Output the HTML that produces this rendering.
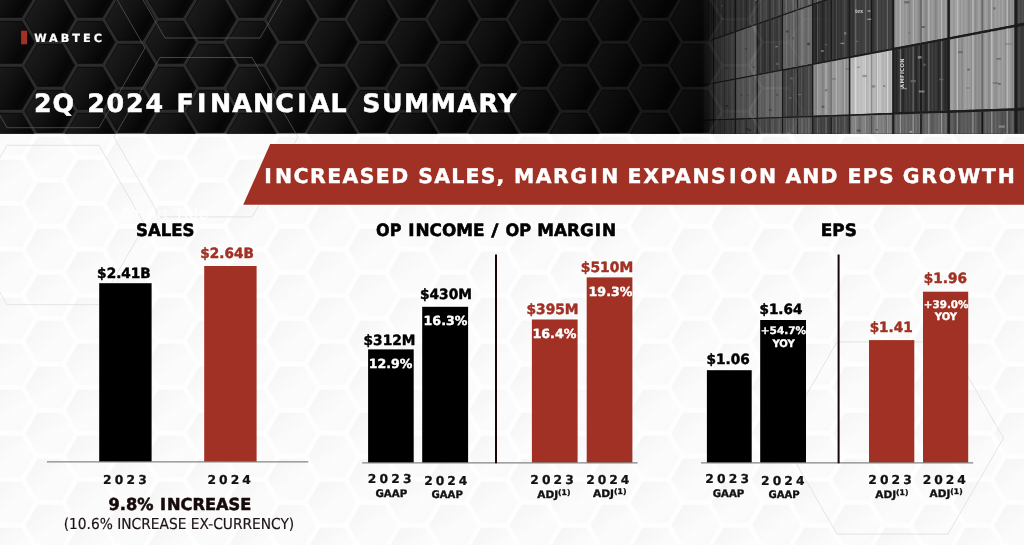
<!DOCTYPE html>
<html lang="en"><head><meta charset="utf-8"><title>2Q 2024 Financial Summary</title>
<style>html,body{margin:0;padding:0;background:#fff}svg{display:block}text{text-rendering:geometricPrecision}.v{font-family:"DejaVu Sans","Liberation Sans",sans-serif;font-weight:bold}.t{font-family:"DejaVu Sans Condensed","DejaVu Sans","Liberation Sans",sans-serif;font-weight:bold}.r{font-family:"DejaVu Sans Condensed","DejaVu Sans","Liberation Sans",sans-serif;font-weight:normal}</style></head><body>
<svg width="1024" height="545" viewBox="0 0 1024 545">
<defs>
<linearGradient id="hg" x1="0" y1="0.25" x2="1" y2="0.75"><stop offset="0" stop-color="#1d1d1d"/><stop offset="0.45" stop-color="#121212"/><stop offset="0.8" stop-color="#060606"/><stop offset="1" stop-color="#0e0e0e"/></linearGradient>
<linearGradient id="lg" x1="0" y1="0" x2="1" y2="1"><stop offset="0" stop-color="#f4f4f4"/><stop offset="0.6" stop-color="#fcfcfc"/><stop offset="1" stop-color="#f8f8f8"/></linearGradient>
<linearGradient id="fade" x1="0" y1="0" x2="1" y2="0"><stop offset="0" stop-color="#050505" stop-opacity="1"/><stop offset="0.12" stop-color="#050505" stop-opacity="0.85"/><stop offset="0.3" stop-color="#050505" stop-opacity="0.55"/><stop offset="0.6" stop-color="#050505" stop-opacity="0.25"/><stop offset="1" stop-color="#050505" stop-opacity="0"/></linearGradient>
<linearGradient id="hdrk" x1="0" y1="0" x2="1" y2="0"><stop offset="0" stop-color="#000" stop-opacity="0"/><stop offset="1" stop-color="#000" stop-opacity="0.55"/></linearGradient>
<linearGradient id="pm" gradientUnits="userSpaceOnUse" x1="700" y1="0" x2="840" y2="0"><stop offset="0" stop-color="#000"/><stop offset="0.1" stop-color="#4a4a4a"/><stop offset="0.3" stop-color="#8a8a8a"/><stop offset="0.6" stop-color="#cfcfcf"/><stop offset="1" stop-color="#fff"/></linearGradient>
<mask id="pmask" maskUnits="userSpaceOnUse" x="690" y="0" width="334" height="134"><rect x="690" y="0" width="334" height="134" fill="url(#pm)"/></mask>
<filter id="soft" x="-5%" y="-5%" width="110%" height="110%"><feGaussianBlur stdDeviation="0.45"/></filter>
<clipPath id="hc"><rect x="0" y="0" width="1024" height="133.8"/></clipPath>
</defs>
<rect x="0" y="0" width="1024" height="545" fill="#fefefe"/>
<g fill="url(#lg)">
<polygon points="-55.2,157.3 -43.0,136.8 -18.8,136.8 -6.7,157.3 -18.8,177.8 -43.0,177.8"/>
<polygon points="-55.2,203.3 -43.0,182.8 -18.8,182.8 -6.7,203.3 -18.8,223.8 -43.0,223.8"/>
<polygon points="-55.2,249.3 -43.0,228.8 -18.8,228.8 -6.7,249.3 -18.8,269.8 -43.0,269.8"/>
<polygon points="-55.2,295.3 -43.0,274.8 -18.8,274.8 -6.7,295.3 -18.8,315.8 -43.0,315.8"/>
<polygon points="-55.2,341.3 -43.0,320.8 -18.8,320.8 -6.7,341.3 -18.8,361.8 -43.0,361.8"/>
<polygon points="-55.2,387.3 -43.0,366.8 -18.8,366.8 -6.7,387.3 -18.8,407.8 -43.0,407.8"/>
<polygon points="-55.2,433.3 -43.0,412.8 -18.8,412.8 -6.7,433.3 -18.8,453.8 -43.0,453.8"/>
<polygon points="-55.2,479.3 -43.0,458.8 -18.8,458.8 -6.7,479.3 -18.8,499.8 -43.0,499.8"/>
<polygon points="-55.2,525.3 -43.0,504.8 -18.8,504.8 -6.7,525.3 -18.8,545.8 -43.0,545.8"/>
<polygon points="-55.2,571.3 -43.0,550.8 -18.8,550.8 -6.7,571.3 -18.8,591.8 -43.0,591.8"/>
<polygon points="-14.8,134.3 -2.7,113.8 21.6,113.8 33.7,134.3 21.6,154.8 -2.7,154.8"/>
<polygon points="-14.8,180.3 -2.7,159.8 21.6,159.8 33.7,180.3 21.6,200.8 -2.7,200.8"/>
<polygon points="-14.8,226.3 -2.7,205.8 21.6,205.8 33.7,226.3 21.6,246.8 -2.7,246.8"/>
<polygon points="-14.8,272.3 -2.7,251.8 21.6,251.8 33.7,272.3 21.6,292.8 -2.7,292.8"/>
<polygon points="-14.8,318.3 -2.7,297.8 21.6,297.8 33.7,318.3 21.6,338.8 -2.7,338.8"/>
<polygon points="-14.8,364.3 -2.7,343.8 21.6,343.8 33.7,364.3 21.6,384.8 -2.7,384.8"/>
<polygon points="-14.8,410.3 -2.7,389.8 21.6,389.8 33.7,410.3 21.6,430.8 -2.7,430.8"/>
<polygon points="-14.8,456.3 -2.7,435.8 21.6,435.8 33.7,456.3 21.6,476.8 -2.7,476.8"/>
<polygon points="-14.8,502.3 -2.7,481.8 21.6,481.8 33.7,502.3 21.6,522.8 -2.7,522.8"/>
<polygon points="-14.8,548.3 -2.7,527.8 21.6,527.8 33.7,548.3 21.6,568.8 -2.7,568.8"/>
<polygon points="25.5,157.3 37.7,136.8 61.9,136.8 74.0,157.3 61.9,177.8 37.7,177.8"/>
<polygon points="25.5,203.3 37.7,182.8 61.9,182.8 74.0,203.3 61.9,223.8 37.7,223.8"/>
<polygon points="25.5,249.3 37.7,228.8 61.9,228.8 74.0,249.3 61.9,269.8 37.7,269.8"/>
<polygon points="25.5,295.3 37.7,274.8 61.9,274.8 74.0,295.3 61.9,315.8 37.7,315.8"/>
<polygon points="25.5,341.3 37.7,320.8 61.9,320.8 74.0,341.3 61.9,361.8 37.7,361.8"/>
<polygon points="25.5,387.3 37.7,366.8 61.9,366.8 74.0,387.3 61.9,407.8 37.7,407.8"/>
<polygon points="25.5,433.3 37.7,412.8 61.9,412.8 74.0,433.3 61.9,453.8 37.7,453.8"/>
<polygon points="25.5,479.3 37.7,458.8 61.9,458.8 74.0,479.3 61.9,499.8 37.7,499.8"/>
<polygon points="25.5,525.3 37.7,504.8 61.9,504.8 74.0,525.3 61.9,545.8 37.7,545.8"/>
<polygon points="25.5,571.3 37.7,550.8 61.9,550.8 74.0,571.3 61.9,591.8 37.7,591.8"/>
<polygon points="65.9,134.3 78.0,113.8 102.3,113.8 114.4,134.3 102.3,154.8 78.0,154.8"/>
<polygon points="65.9,180.3 78.0,159.8 102.3,159.8 114.4,180.3 102.3,200.8 78.0,200.8"/>
<polygon points="65.9,226.3 78.0,205.8 102.3,205.8 114.4,226.3 102.3,246.8 78.0,246.8"/>
<polygon points="65.9,272.3 78.0,251.8 102.3,251.8 114.4,272.3 102.3,292.8 78.0,292.8"/>
<polygon points="65.9,318.3 78.0,297.8 102.3,297.8 114.4,318.3 102.3,338.8 78.0,338.8"/>
<polygon points="65.9,364.3 78.0,343.8 102.3,343.8 114.4,364.3 102.3,384.8 78.0,384.8"/>
<polygon points="65.9,410.3 78.0,389.8 102.3,389.8 114.4,410.3 102.3,430.8 78.0,430.8"/>
<polygon points="65.9,456.3 78.0,435.8 102.3,435.8 114.4,456.3 102.3,476.8 78.0,476.8"/>
<polygon points="65.9,502.3 78.0,481.8 102.3,481.8 114.4,502.3 102.3,522.8 78.0,522.8"/>
<polygon points="65.9,548.3 78.0,527.8 102.3,527.8 114.4,548.3 102.3,568.8 78.0,568.8"/>
<polygon points="106.2,157.3 118.4,136.8 142.6,136.8 154.8,157.3 142.6,177.8 118.4,177.8"/>
<polygon points="106.2,203.3 118.4,182.8 142.6,182.8 154.8,203.3 142.6,223.8 118.4,223.8"/>
<polygon points="106.2,249.3 118.4,228.8 142.6,228.8 154.8,249.3 142.6,269.8 118.4,269.8"/>
<polygon points="106.2,295.3 118.4,274.8 142.6,274.8 154.8,295.3 142.6,315.8 118.4,315.8"/>
<polygon points="106.2,341.3 118.4,320.8 142.6,320.8 154.8,341.3 142.6,361.8 118.4,361.8"/>
<polygon points="106.2,387.3 118.4,366.8 142.6,366.8 154.8,387.3 142.6,407.8 118.4,407.8"/>
<polygon points="106.2,433.3 118.4,412.8 142.6,412.8 154.8,433.3 142.6,453.8 118.4,453.8"/>
<polygon points="106.2,479.3 118.4,458.8 142.6,458.8 154.8,479.3 142.6,499.8 118.4,499.8"/>
<polygon points="106.2,525.3 118.4,504.8 142.6,504.8 154.8,525.3 142.6,545.8 118.4,545.8"/>
<polygon points="106.2,571.3 118.4,550.8 142.6,550.8 154.8,571.3 142.6,591.8 118.4,591.8"/>
<polygon points="146.6,134.3 158.7,113.8 183.0,113.8 195.1,134.3 183.0,154.8 158.7,154.8"/>
<polygon points="146.6,180.3 158.7,159.8 183.0,159.8 195.1,180.3 183.0,200.8 158.7,200.8"/>
<polygon points="146.6,226.3 158.7,205.8 183.0,205.8 195.1,226.3 183.0,246.8 158.7,246.8"/>
<polygon points="146.6,272.3 158.7,251.8 183.0,251.8 195.1,272.3 183.0,292.8 158.7,292.8"/>
<polygon points="146.6,318.3 158.7,297.8 183.0,297.8 195.1,318.3 183.0,338.8 158.7,338.8"/>
<polygon points="146.6,364.3 158.7,343.8 183.0,343.8 195.1,364.3 183.0,384.8 158.7,384.8"/>
<polygon points="146.6,410.3 158.7,389.8 183.0,389.8 195.1,410.3 183.0,430.8 158.7,430.8"/>
<polygon points="146.6,456.3 158.7,435.8 183.0,435.8 195.1,456.3 183.0,476.8 158.7,476.8"/>
<polygon points="146.6,502.3 158.7,481.8 183.0,481.8 195.1,502.3 183.0,522.8 158.7,522.8"/>
<polygon points="146.6,548.3 158.7,527.8 183.0,527.8 195.1,548.3 183.0,568.8 158.7,568.8"/>
<polygon points="186.9,157.3 199.1,136.8 223.3,136.8 235.4,157.3 223.3,177.8 199.1,177.8"/>
<polygon points="186.9,203.3 199.1,182.8 223.3,182.8 235.4,203.3 223.3,223.8 199.1,223.8"/>
<polygon points="186.9,249.3 199.1,228.8 223.3,228.8 235.4,249.3 223.3,269.8 199.1,269.8"/>
<polygon points="186.9,295.3 199.1,274.8 223.3,274.8 235.4,295.3 223.3,315.8 199.1,315.8"/>
<polygon points="186.9,341.3 199.1,320.8 223.3,320.8 235.4,341.3 223.3,361.8 199.1,361.8"/>
<polygon points="186.9,387.3 199.1,366.8 223.3,366.8 235.4,387.3 223.3,407.8 199.1,407.8"/>
<polygon points="186.9,433.3 199.1,412.8 223.3,412.8 235.4,433.3 223.3,453.8 199.1,453.8"/>
<polygon points="186.9,479.3 199.1,458.8 223.3,458.8 235.4,479.3 223.3,499.8 199.1,499.8"/>
<polygon points="186.9,525.3 199.1,504.8 223.3,504.8 235.4,525.3 223.3,545.8 199.1,545.8"/>
<polygon points="186.9,571.3 199.1,550.8 223.3,550.8 235.4,571.3 223.3,591.8 199.1,591.8"/>
<polygon points="227.3,134.3 239.4,113.8 263.7,113.8 275.8,134.3 263.7,154.8 239.4,154.8"/>
<polygon points="227.3,180.3 239.4,159.8 263.7,159.8 275.8,180.3 263.7,200.8 239.4,200.8"/>
<polygon points="227.3,226.3 239.4,205.8 263.7,205.8 275.8,226.3 263.7,246.8 239.4,246.8"/>
<polygon points="227.3,272.3 239.4,251.8 263.7,251.8 275.8,272.3 263.7,292.8 239.4,292.8"/>
<polygon points="227.3,318.3 239.4,297.8 263.7,297.8 275.8,318.3 263.7,338.8 239.4,338.8"/>
<polygon points="227.3,364.3 239.4,343.8 263.7,343.8 275.8,364.3 263.7,384.8 239.4,384.8"/>
<polygon points="227.3,410.3 239.4,389.8 263.7,389.8 275.8,410.3 263.7,430.8 239.4,430.8"/>
<polygon points="227.3,456.3 239.4,435.8 263.7,435.8 275.8,456.3 263.7,476.8 239.4,476.8"/>
<polygon points="227.3,502.3 239.4,481.8 263.7,481.8 275.8,502.3 263.7,522.8 239.4,522.8"/>
<polygon points="227.3,548.3 239.4,527.8 263.7,527.8 275.8,548.3 263.7,568.8 239.4,568.8"/>
<polygon points="267.6,157.3 279.8,136.8 304.0,136.8 316.1,157.3 304.0,177.8 279.8,177.8"/>
<polygon points="267.6,203.3 279.8,182.8 304.0,182.8 316.1,203.3 304.0,223.8 279.8,223.8"/>
<polygon points="267.6,249.3 279.8,228.8 304.0,228.8 316.1,249.3 304.0,269.8 279.8,269.8"/>
<polygon points="267.6,295.3 279.8,274.8 304.0,274.8 316.1,295.3 304.0,315.8 279.8,315.8"/>
<polygon points="267.6,341.3 279.8,320.8 304.0,320.8 316.1,341.3 304.0,361.8 279.8,361.8"/>
<polygon points="267.6,387.3 279.8,366.8 304.0,366.8 316.1,387.3 304.0,407.8 279.8,407.8"/>
<polygon points="267.6,433.3 279.8,412.8 304.0,412.8 316.1,433.3 304.0,453.8 279.8,453.8"/>
<polygon points="267.6,479.3 279.8,458.8 304.0,458.8 316.1,479.3 304.0,499.8 279.8,499.8"/>
<polygon points="267.6,525.3 279.8,504.8 304.0,504.8 316.1,525.3 304.0,545.8 279.8,545.8"/>
<polygon points="267.6,571.3 279.8,550.8 304.0,550.8 316.1,571.3 304.0,591.8 279.8,591.8"/>
<polygon points="308.0,134.3 320.1,113.8 344.4,113.8 356.5,134.3 344.4,154.8 320.1,154.8"/>
<polygon points="308.0,180.3 320.1,159.8 344.4,159.8 356.5,180.3 344.4,200.8 320.1,200.8"/>
<polygon points="308.0,226.3 320.1,205.8 344.4,205.8 356.5,226.3 344.4,246.8 320.1,246.8"/>
<polygon points="308.0,272.3 320.1,251.8 344.4,251.8 356.5,272.3 344.4,292.8 320.1,292.8"/>
<polygon points="308.0,318.3 320.1,297.8 344.4,297.8 356.5,318.3 344.4,338.8 320.1,338.8"/>
<polygon points="308.0,364.3 320.1,343.8 344.4,343.8 356.5,364.3 344.4,384.8 320.1,384.8"/>
<polygon points="308.0,410.3 320.1,389.8 344.4,389.8 356.5,410.3 344.4,430.8 320.1,430.8"/>
<polygon points="308.0,456.3 320.1,435.8 344.4,435.8 356.5,456.3 344.4,476.8 320.1,476.8"/>
<polygon points="308.0,502.3 320.1,481.8 344.4,481.8 356.5,502.3 344.4,522.8 320.1,522.8"/>
<polygon points="308.0,548.3 320.1,527.8 344.4,527.8 356.5,548.3 344.4,568.8 320.1,568.8"/>
<polygon points="348.4,157.3 360.5,136.8 384.7,136.8 396.9,157.3 384.7,177.8 360.5,177.8"/>
<polygon points="348.4,203.3 360.5,182.8 384.7,182.8 396.9,203.3 384.7,223.8 360.5,223.8"/>
<polygon points="348.4,249.3 360.5,228.8 384.7,228.8 396.9,249.3 384.7,269.8 360.5,269.8"/>
<polygon points="348.4,295.3 360.5,274.8 384.7,274.8 396.9,295.3 384.7,315.8 360.5,315.8"/>
<polygon points="348.4,341.3 360.5,320.8 384.7,320.8 396.9,341.3 384.7,361.8 360.5,361.8"/>
<polygon points="348.4,387.3 360.5,366.8 384.7,366.8 396.9,387.3 384.7,407.8 360.5,407.8"/>
<polygon points="348.4,433.3 360.5,412.8 384.7,412.8 396.9,433.3 384.7,453.8 360.5,453.8"/>
<polygon points="348.4,479.3 360.5,458.8 384.7,458.8 396.9,479.3 384.7,499.8 360.5,499.8"/>
<polygon points="348.4,525.3 360.5,504.8 384.7,504.8 396.9,525.3 384.7,545.8 360.5,545.8"/>
<polygon points="348.4,571.3 360.5,550.8 384.7,550.8 396.9,571.3 384.7,591.8 360.5,591.8"/>
<polygon points="388.7,134.3 400.8,113.8 425.1,113.8 437.2,134.3 425.1,154.8 400.8,154.8"/>
<polygon points="388.7,180.3 400.8,159.8 425.1,159.8 437.2,180.3 425.1,200.8 400.8,200.8"/>
<polygon points="388.7,226.3 400.8,205.8 425.1,205.8 437.2,226.3 425.1,246.8 400.8,246.8"/>
<polygon points="388.7,272.3 400.8,251.8 425.1,251.8 437.2,272.3 425.1,292.8 400.8,292.8"/>
<polygon points="388.7,318.3 400.8,297.8 425.1,297.8 437.2,318.3 425.1,338.8 400.8,338.8"/>
<polygon points="388.7,364.3 400.8,343.8 425.1,343.8 437.2,364.3 425.1,384.8 400.8,384.8"/>
<polygon points="388.7,410.3 400.8,389.8 425.1,389.8 437.2,410.3 425.1,430.8 400.8,430.8"/>
<polygon points="388.7,456.3 400.8,435.8 425.1,435.8 437.2,456.3 425.1,476.8 400.8,476.8"/>
<polygon points="388.7,502.3 400.8,481.8 425.1,481.8 437.2,502.3 425.1,522.8 400.8,522.8"/>
<polygon points="388.7,548.3 400.8,527.8 425.1,527.8 437.2,548.3 425.1,568.8 400.8,568.8"/>
<polygon points="429.1,157.3 441.2,136.8 465.4,136.8 477.6,157.3 465.4,177.8 441.2,177.8"/>
<polygon points="429.1,203.3 441.2,182.8 465.4,182.8 477.6,203.3 465.4,223.8 441.2,223.8"/>
<polygon points="429.1,249.3 441.2,228.8 465.4,228.8 477.6,249.3 465.4,269.8 441.2,269.8"/>
<polygon points="429.1,295.3 441.2,274.8 465.4,274.8 477.6,295.3 465.4,315.8 441.2,315.8"/>
<polygon points="429.1,341.3 441.2,320.8 465.4,320.8 477.6,341.3 465.4,361.8 441.2,361.8"/>
<polygon points="429.1,387.3 441.2,366.8 465.4,366.8 477.6,387.3 465.4,407.8 441.2,407.8"/>
<polygon points="429.1,433.3 441.2,412.8 465.4,412.8 477.6,433.3 465.4,453.8 441.2,453.8"/>
<polygon points="429.1,479.3 441.2,458.8 465.4,458.8 477.6,479.3 465.4,499.8 441.2,499.8"/>
<polygon points="429.1,525.3 441.2,504.8 465.4,504.8 477.6,525.3 465.4,545.8 441.2,545.8"/>
<polygon points="429.1,571.3 441.2,550.8 465.4,550.8 477.6,571.3 465.4,591.8 441.2,591.8"/>
<polygon points="469.4,134.3 481.5,113.8 505.8,113.8 517.9,134.3 505.8,154.8 481.5,154.8"/>
<polygon points="469.4,180.3 481.5,159.8 505.8,159.8 517.9,180.3 505.8,200.8 481.5,200.8"/>
<polygon points="469.4,226.3 481.5,205.8 505.8,205.8 517.9,226.3 505.8,246.8 481.5,246.8"/>
<polygon points="469.4,272.3 481.5,251.8 505.8,251.8 517.9,272.3 505.8,292.8 481.5,292.8"/>
<polygon points="469.4,318.3 481.5,297.8 505.8,297.8 517.9,318.3 505.8,338.8 481.5,338.8"/>
<polygon points="469.4,364.3 481.5,343.8 505.8,343.8 517.9,364.3 505.8,384.8 481.5,384.8"/>
<polygon points="469.4,410.3 481.5,389.8 505.8,389.8 517.9,410.3 505.8,430.8 481.5,430.8"/>
<polygon points="469.4,456.3 481.5,435.8 505.8,435.8 517.9,456.3 505.8,476.8 481.5,476.8"/>
<polygon points="469.4,502.3 481.5,481.8 505.8,481.8 517.9,502.3 505.8,522.8 481.5,522.8"/>
<polygon points="469.4,548.3 481.5,527.8 505.8,527.8 517.9,548.3 505.8,568.8 481.5,568.8"/>
<polygon points="509.8,157.3 521.9,136.8 546.1,136.8 558.3,157.3 546.1,177.8 521.9,177.8"/>
<polygon points="509.8,203.3 521.9,182.8 546.1,182.8 558.3,203.3 546.1,223.8 521.9,223.8"/>
<polygon points="509.8,249.3 521.9,228.8 546.1,228.8 558.3,249.3 546.1,269.8 521.9,269.8"/>
<polygon points="509.8,295.3 521.9,274.8 546.1,274.8 558.3,295.3 546.1,315.8 521.9,315.8"/>
<polygon points="509.8,341.3 521.9,320.8 546.1,320.8 558.3,341.3 546.1,361.8 521.9,361.8"/>
<polygon points="509.8,387.3 521.9,366.8 546.1,366.8 558.3,387.3 546.1,407.8 521.9,407.8"/>
<polygon points="509.8,433.3 521.9,412.8 546.1,412.8 558.3,433.3 546.1,453.8 521.9,453.8"/>
<polygon points="509.8,479.3 521.9,458.8 546.1,458.8 558.3,479.3 546.1,499.8 521.9,499.8"/>
<polygon points="509.8,525.3 521.9,504.8 546.1,504.8 558.3,525.3 546.1,545.8 521.9,545.8"/>
<polygon points="509.8,571.3 521.9,550.8 546.1,550.8 558.3,571.3 546.1,591.8 521.9,591.8"/>
<polygon points="550.1,134.3 562.2,113.8 586.5,113.8 598.6,134.3 586.5,154.8 562.2,154.8"/>
<polygon points="550.1,180.3 562.2,159.8 586.5,159.8 598.6,180.3 586.5,200.8 562.2,200.8"/>
<polygon points="550.1,226.3 562.2,205.8 586.5,205.8 598.6,226.3 586.5,246.8 562.2,246.8"/>
<polygon points="550.1,272.3 562.2,251.8 586.5,251.8 598.6,272.3 586.5,292.8 562.2,292.8"/>
<polygon points="550.1,318.3 562.2,297.8 586.5,297.8 598.6,318.3 586.5,338.8 562.2,338.8"/>
<polygon points="550.1,364.3 562.2,343.8 586.5,343.8 598.6,364.3 586.5,384.8 562.2,384.8"/>
<polygon points="550.1,410.3 562.2,389.8 586.5,389.8 598.6,410.3 586.5,430.8 562.2,430.8"/>
<polygon points="550.1,456.3 562.2,435.8 586.5,435.8 598.6,456.3 586.5,476.8 562.2,476.8"/>
<polygon points="550.1,502.3 562.2,481.8 586.5,481.8 598.6,502.3 586.5,522.8 562.2,522.8"/>
<polygon points="550.1,548.3 562.2,527.8 586.5,527.8 598.6,548.3 586.5,568.8 562.2,568.8"/>
<polygon points="590.5,157.3 602.6,136.8 626.8,136.8 639.0,157.3 626.8,177.8 602.6,177.8"/>
<polygon points="590.5,203.3 602.6,182.8 626.8,182.8 639.0,203.3 626.8,223.8 602.6,223.8"/>
<polygon points="590.5,249.3 602.6,228.8 626.8,228.8 639.0,249.3 626.8,269.8 602.6,269.8"/>
<polygon points="590.5,295.3 602.6,274.8 626.8,274.8 639.0,295.3 626.8,315.8 602.6,315.8"/>
<polygon points="590.5,341.3 602.6,320.8 626.8,320.8 639.0,341.3 626.8,361.8 602.6,361.8"/>
<polygon points="590.5,387.3 602.6,366.8 626.8,366.8 639.0,387.3 626.8,407.8 602.6,407.8"/>
<polygon points="590.5,433.3 602.6,412.8 626.8,412.8 639.0,433.3 626.8,453.8 602.6,453.8"/>
<polygon points="590.5,479.3 602.6,458.8 626.8,458.8 639.0,479.3 626.8,499.8 602.6,499.8"/>
<polygon points="590.5,525.3 602.6,504.8 626.8,504.8 639.0,525.3 626.8,545.8 602.6,545.8"/>
<polygon points="590.5,571.3 602.6,550.8 626.8,550.8 639.0,571.3 626.8,591.8 602.6,591.8"/>
<polygon points="630.8,134.3 642.9,113.8 667.2,113.8 679.3,134.3 667.2,154.8 642.9,154.8"/>
<polygon points="630.8,180.3 642.9,159.8 667.2,159.8 679.3,180.3 667.2,200.8 642.9,200.8"/>
<polygon points="630.8,226.3 642.9,205.8 667.2,205.8 679.3,226.3 667.2,246.8 642.9,246.8"/>
<polygon points="630.8,272.3 642.9,251.8 667.2,251.8 679.3,272.3 667.2,292.8 642.9,292.8"/>
<polygon points="630.8,318.3 642.9,297.8 667.2,297.8 679.3,318.3 667.2,338.8 642.9,338.8"/>
<polygon points="630.8,364.3 642.9,343.8 667.2,343.8 679.3,364.3 667.2,384.8 642.9,384.8"/>
<polygon points="630.8,410.3 642.9,389.8 667.2,389.8 679.3,410.3 667.2,430.8 642.9,430.8"/>
<polygon points="630.8,456.3 642.9,435.8 667.2,435.8 679.3,456.3 667.2,476.8 642.9,476.8"/>
<polygon points="630.8,502.3 642.9,481.8 667.2,481.8 679.3,502.3 667.2,522.8 642.9,522.8"/>
<polygon points="630.8,548.3 642.9,527.8 667.2,527.8 679.3,548.3 667.2,568.8 642.9,568.8"/>
<polygon points="671.2,157.3 683.3,136.8 707.5,136.8 719.7,157.3 707.5,177.8 683.3,177.8"/>
<polygon points="671.2,203.3 683.3,182.8 707.5,182.8 719.7,203.3 707.5,223.8 683.3,223.8"/>
<polygon points="671.2,249.3 683.3,228.8 707.5,228.8 719.7,249.3 707.5,269.8 683.3,269.8"/>
<polygon points="671.2,295.3 683.3,274.8 707.5,274.8 719.7,295.3 707.5,315.8 683.3,315.8"/>
<polygon points="671.2,341.3 683.3,320.8 707.5,320.8 719.7,341.3 707.5,361.8 683.3,361.8"/>
<polygon points="671.2,387.3 683.3,366.8 707.5,366.8 719.7,387.3 707.5,407.8 683.3,407.8"/>
<polygon points="671.2,433.3 683.3,412.8 707.5,412.8 719.7,433.3 707.5,453.8 683.3,453.8"/>
<polygon points="671.2,479.3 683.3,458.8 707.5,458.8 719.7,479.3 707.5,499.8 683.3,499.8"/>
<polygon points="671.2,525.3 683.3,504.8 707.5,504.8 719.7,525.3 707.5,545.8 683.3,545.8"/>
<polygon points="671.2,571.3 683.3,550.8 707.5,550.8 719.7,571.3 707.5,591.8 683.3,591.8"/>
<polygon points="711.5,134.3 723.6,113.8 747.9,113.8 760.0,134.3 747.9,154.8 723.6,154.8"/>
<polygon points="711.5,180.3 723.6,159.8 747.9,159.8 760.0,180.3 747.9,200.8 723.6,200.8"/>
<polygon points="711.5,226.3 723.6,205.8 747.9,205.8 760.0,226.3 747.9,246.8 723.6,246.8"/>
<polygon points="711.5,272.3 723.6,251.8 747.9,251.8 760.0,272.3 747.9,292.8 723.6,292.8"/>
<polygon points="711.5,318.3 723.6,297.8 747.9,297.8 760.0,318.3 747.9,338.8 723.6,338.8"/>
<polygon points="711.5,364.3 723.6,343.8 747.9,343.8 760.0,364.3 747.9,384.8 723.6,384.8"/>
<polygon points="711.5,410.3 723.6,389.8 747.9,389.8 760.0,410.3 747.9,430.8 723.6,430.8"/>
<polygon points="711.5,456.3 723.6,435.8 747.9,435.8 760.0,456.3 747.9,476.8 723.6,476.8"/>
<polygon points="711.5,502.3 723.6,481.8 747.9,481.8 760.0,502.3 747.9,522.8 723.6,522.8"/>
<polygon points="711.5,548.3 723.6,527.8 747.9,527.8 760.0,548.3 747.9,568.8 723.6,568.8"/>
<polygon points="751.9,157.3 764.0,136.8 788.2,136.8 800.4,157.3 788.2,177.8 764.0,177.8"/>
<polygon points="751.9,203.3 764.0,182.8 788.2,182.8 800.4,203.3 788.2,223.8 764.0,223.8"/>
<polygon points="751.9,249.3 764.0,228.8 788.2,228.8 800.4,249.3 788.2,269.8 764.0,269.8"/>
<polygon points="751.9,295.3 764.0,274.8 788.2,274.8 800.4,295.3 788.2,315.8 764.0,315.8"/>
<polygon points="751.9,341.3 764.0,320.8 788.2,320.8 800.4,341.3 788.2,361.8 764.0,361.8"/>
<polygon points="751.9,387.3 764.0,366.8 788.2,366.8 800.4,387.3 788.2,407.8 764.0,407.8"/>
<polygon points="751.9,433.3 764.0,412.8 788.2,412.8 800.4,433.3 788.2,453.8 764.0,453.8"/>
<polygon points="751.9,479.3 764.0,458.8 788.2,458.8 800.4,479.3 788.2,499.8 764.0,499.8"/>
<polygon points="751.9,525.3 764.0,504.8 788.2,504.8 800.4,525.3 788.2,545.8 764.0,545.8"/>
<polygon points="751.9,571.3 764.0,550.8 788.2,550.8 800.4,571.3 788.2,591.8 764.0,591.8"/>
<polygon points="792.2,134.3 804.3,113.8 828.6,113.8 840.7,134.3 828.6,154.8 804.3,154.8"/>
<polygon points="792.2,180.3 804.3,159.8 828.6,159.8 840.7,180.3 828.6,200.8 804.3,200.8"/>
<polygon points="792.2,226.3 804.3,205.8 828.6,205.8 840.7,226.3 828.6,246.8 804.3,246.8"/>
<polygon points="792.2,272.3 804.3,251.8 828.6,251.8 840.7,272.3 828.6,292.8 804.3,292.8"/>
<polygon points="792.2,318.3 804.3,297.8 828.6,297.8 840.7,318.3 828.6,338.8 804.3,338.8"/>
<polygon points="792.2,364.3 804.3,343.8 828.6,343.8 840.7,364.3 828.6,384.8 804.3,384.8"/>
<polygon points="792.2,410.3 804.3,389.8 828.6,389.8 840.7,410.3 828.6,430.8 804.3,430.8"/>
<polygon points="792.2,456.3 804.3,435.8 828.6,435.8 840.7,456.3 828.6,476.8 804.3,476.8"/>
<polygon points="792.2,502.3 804.3,481.8 828.6,481.8 840.7,502.3 828.6,522.8 804.3,522.8"/>
<polygon points="792.2,548.3 804.3,527.8 828.6,527.8 840.7,548.3 828.6,568.8 804.3,568.8"/>
<polygon points="832.6,157.3 844.7,136.8 868.9,136.8 881.1,157.3 868.9,177.8 844.7,177.8"/>
<polygon points="832.6,203.3 844.7,182.8 868.9,182.8 881.1,203.3 868.9,223.8 844.7,223.8"/>
<polygon points="832.6,249.3 844.7,228.8 868.9,228.8 881.1,249.3 868.9,269.8 844.7,269.8"/>
<polygon points="832.6,295.3 844.7,274.8 868.9,274.8 881.1,295.3 868.9,315.8 844.7,315.8"/>
<polygon points="832.6,341.3 844.7,320.8 868.9,320.8 881.1,341.3 868.9,361.8 844.7,361.8"/>
<polygon points="832.6,387.3 844.7,366.8 868.9,366.8 881.1,387.3 868.9,407.8 844.7,407.8"/>
<polygon points="832.6,433.3 844.7,412.8 868.9,412.8 881.1,433.3 868.9,453.8 844.7,453.8"/>
<polygon points="832.6,479.3 844.7,458.8 868.9,458.8 881.1,479.3 868.9,499.8 844.7,499.8"/>
<polygon points="832.6,525.3 844.7,504.8 868.9,504.8 881.1,525.3 868.9,545.8 844.7,545.8"/>
<polygon points="832.6,571.3 844.7,550.8 868.9,550.8 881.1,571.3 868.9,591.8 844.7,591.8"/>
<polygon points="872.9,134.3 885.0,113.8 909.3,113.8 921.4,134.3 909.3,154.8 885.0,154.8"/>
<polygon points="872.9,180.3 885.0,159.8 909.3,159.8 921.4,180.3 909.3,200.8 885.0,200.8"/>
<polygon points="872.9,226.3 885.0,205.8 909.3,205.8 921.4,226.3 909.3,246.8 885.0,246.8"/>
<polygon points="872.9,272.3 885.0,251.8 909.3,251.8 921.4,272.3 909.3,292.8 885.0,292.8"/>
<polygon points="872.9,318.3 885.0,297.8 909.3,297.8 921.4,318.3 909.3,338.8 885.0,338.8"/>
<polygon points="872.9,364.3 885.0,343.8 909.3,343.8 921.4,364.3 909.3,384.8 885.0,384.8"/>
<polygon points="872.9,410.3 885.0,389.8 909.3,389.8 921.4,410.3 909.3,430.8 885.0,430.8"/>
<polygon points="872.9,456.3 885.0,435.8 909.3,435.8 921.4,456.3 909.3,476.8 885.0,476.8"/>
<polygon points="872.9,502.3 885.0,481.8 909.3,481.8 921.4,502.3 909.3,522.8 885.0,522.8"/>
<polygon points="872.9,548.3 885.0,527.8 909.3,527.8 921.4,548.3 909.3,568.8 885.0,568.8"/>
<polygon points="913.3,157.3 925.4,136.8 949.6,136.8 961.8,157.3 949.6,177.8 925.4,177.8"/>
<polygon points="913.3,203.3 925.4,182.8 949.6,182.8 961.8,203.3 949.6,223.8 925.4,223.8"/>
<polygon points="913.3,249.3 925.4,228.8 949.6,228.8 961.8,249.3 949.6,269.8 925.4,269.8"/>
<polygon points="913.3,295.3 925.4,274.8 949.6,274.8 961.8,295.3 949.6,315.8 925.4,315.8"/>
<polygon points="913.3,341.3 925.4,320.8 949.6,320.8 961.8,341.3 949.6,361.8 925.4,361.8"/>
<polygon points="913.3,387.3 925.4,366.8 949.6,366.8 961.8,387.3 949.6,407.8 925.4,407.8"/>
<polygon points="913.3,433.3 925.4,412.8 949.6,412.8 961.8,433.3 949.6,453.8 925.4,453.8"/>
<polygon points="913.3,479.3 925.4,458.8 949.6,458.8 961.8,479.3 949.6,499.8 925.4,499.8"/>
<polygon points="913.3,525.3 925.4,504.8 949.6,504.8 961.8,525.3 949.6,545.8 925.4,545.8"/>
<polygon points="913.3,571.3 925.4,550.8 949.6,550.8 961.8,571.3 949.6,591.8 925.4,591.8"/>
<polygon points="953.6,134.3 965.7,113.8 990.0,113.8 1002.1,134.3 990.0,154.8 965.7,154.8"/>
<polygon points="953.6,180.3 965.7,159.8 990.0,159.8 1002.1,180.3 990.0,200.8 965.7,200.8"/>
<polygon points="953.6,226.3 965.7,205.8 990.0,205.8 1002.1,226.3 990.0,246.8 965.7,246.8"/>
<polygon points="953.6,272.3 965.7,251.8 990.0,251.8 1002.1,272.3 990.0,292.8 965.7,292.8"/>
<polygon points="953.6,318.3 965.7,297.8 990.0,297.8 1002.1,318.3 990.0,338.8 965.7,338.8"/>
<polygon points="953.6,364.3 965.7,343.8 990.0,343.8 1002.1,364.3 990.0,384.8 965.7,384.8"/>
<polygon points="953.6,410.3 965.7,389.8 990.0,389.8 1002.1,410.3 990.0,430.8 965.7,430.8"/>
<polygon points="953.6,456.3 965.7,435.8 990.0,435.8 1002.1,456.3 990.0,476.8 965.7,476.8"/>
<polygon points="953.6,502.3 965.7,481.8 990.0,481.8 1002.1,502.3 990.0,522.8 965.7,522.8"/>
<polygon points="953.6,548.3 965.7,527.8 990.0,527.8 1002.1,548.3 990.0,568.8 965.7,568.8"/>
<polygon points="994.0,157.3 1006.1,136.8 1030.3,136.8 1042.5,157.3 1030.3,177.8 1006.1,177.8"/>
<polygon points="994.0,203.3 1006.1,182.8 1030.3,182.8 1042.5,203.3 1030.3,223.8 1006.1,223.8"/>
<polygon points="994.0,249.3 1006.1,228.8 1030.3,228.8 1042.5,249.3 1030.3,269.8 1006.1,269.8"/>
<polygon points="994.0,295.3 1006.1,274.8 1030.3,274.8 1042.5,295.3 1030.3,315.8 1006.1,315.8"/>
<polygon points="994.0,341.3 1006.1,320.8 1030.3,320.8 1042.5,341.3 1030.3,361.8 1006.1,361.8"/>
<polygon points="994.0,387.3 1006.1,366.8 1030.3,366.8 1042.5,387.3 1030.3,407.8 1006.1,407.8"/>
<polygon points="994.0,433.3 1006.1,412.8 1030.3,412.8 1042.5,433.3 1030.3,453.8 1006.1,453.8"/>
<polygon points="994.0,479.3 1006.1,458.8 1030.3,458.8 1042.5,479.3 1030.3,499.8 1006.1,499.8"/>
<polygon points="994.0,525.3 1006.1,504.8 1030.3,504.8 1042.5,525.3 1030.3,545.8 1006.1,545.8"/>
<polygon points="994.0,571.3 1006.1,550.8 1030.3,550.8 1042.5,571.3 1030.3,591.8 1006.1,591.8"/>
<polygon points="1034.3,134.3 1046.4,113.8 1070.7,113.8 1082.8,134.3 1070.7,154.8 1046.4,154.8"/>
<polygon points="1034.3,180.3 1046.4,159.8 1070.7,159.8 1082.8,180.3 1070.7,200.8 1046.4,200.8"/>
<polygon points="1034.3,226.3 1046.4,205.8 1070.7,205.8 1082.8,226.3 1070.7,246.8 1046.4,246.8"/>
<polygon points="1034.3,272.3 1046.4,251.8 1070.7,251.8 1082.8,272.3 1070.7,292.8 1046.4,292.8"/>
<polygon points="1034.3,318.3 1046.4,297.8 1070.7,297.8 1082.8,318.3 1070.7,338.8 1046.4,338.8"/>
<polygon points="1034.3,364.3 1046.4,343.8 1070.7,343.8 1082.8,364.3 1070.7,384.8 1046.4,384.8"/>
<polygon points="1034.3,410.3 1046.4,389.8 1070.7,389.8 1082.8,410.3 1070.7,430.8 1046.4,430.8"/>
<polygon points="1034.3,456.3 1046.4,435.8 1070.7,435.8 1082.8,456.3 1070.7,476.8 1046.4,476.8"/>
<polygon points="1034.3,502.3 1046.4,481.8 1070.7,481.8 1082.8,502.3 1070.7,522.8 1046.4,522.8"/>
<polygon points="1034.3,548.3 1046.4,527.8 1070.7,527.8 1082.8,548.3 1070.7,568.8 1046.4,568.8"/>
</g>
<g fill="none" stroke="#dedede" stroke-width="0.8">
<polygon points="-39.0,48.0 7.0,-31.7 99.0,-31.7 145.0,48.0 99.0,127.7 7.0,127.7"/>
<polygon points="114.0,137.2 160.0,57.5 252.0,57.5 298.0,137.2 252.0,216.9 160.0,216.9"/>
<polygon points="-39.0,225.0 7.0,145.3 99.0,145.3 145.0,225.0 99.0,304.7 7.0,304.7"/>
<polygon points="781.5,438.0 837.0,341.9 948.0,341.9 1003.5,438.0 948.0,534.1 837.0,534.1"/>
</g>
<g clip-path="url(#hc)">
<rect x="0" y="0" width="1024" height="134" fill="#2b2b2b"/>
<g fill="url(#hg)" stroke="#070707" stroke-width="0.8">
<polygon points="-55.7,-26.7 -43.3,-47.7 -18.5,-47.7 -6.2,-26.7 -18.5,-5.7 -43.3,-5.7"/>
<polygon points="-55.7,19.3 -43.3,-1.7 -18.5,-1.7 -6.2,19.3 -18.5,40.3 -43.3,40.3"/>
<polygon points="-55.7,65.3 -43.3,44.3 -18.5,44.3 -6.2,65.3 -18.5,86.3 -43.3,86.3"/>
<polygon points="-55.7,111.3 -43.3,90.3 -18.5,90.3 -6.2,111.3 -18.5,132.3 -43.3,132.3"/>
<polygon points="-55.7,157.3 -43.3,136.3 -18.5,136.3 -6.2,157.3 -18.5,178.3 -43.3,178.3"/>
<polygon points="-55.7,203.3 -43.3,182.3 -18.5,182.3 -6.2,203.3 -18.5,224.3 -43.3,224.3"/>
<polygon points="-15.3,-49.7 -2.9,-70.7 21.8,-70.7 34.2,-49.7 21.8,-28.7 -2.9,-28.7"/>
<polygon points="-15.3,-3.7 -2.9,-24.7 21.8,-24.7 34.2,-3.7 21.8,17.3 -2.9,17.3"/>
<polygon points="-15.3,42.3 -2.9,21.3 21.8,21.3 34.2,42.3 21.8,63.3 -2.9,63.3"/>
<polygon points="-15.3,88.3 -2.9,67.3 21.8,67.3 34.2,88.3 21.8,109.3 -2.9,109.3"/>
<polygon points="-15.3,134.3 -2.9,113.3 21.8,113.3 34.2,134.3 21.8,155.3 -2.9,155.3"/>
<polygon points="-15.3,180.3 -2.9,159.3 21.8,159.3 34.2,180.3 21.8,201.3 -2.9,201.3"/>
<polygon points="25.0,-26.7 37.4,-47.7 62.2,-47.7 74.5,-26.7 62.2,-5.7 37.4,-5.7"/>
<polygon points="25.0,19.3 37.4,-1.7 62.2,-1.7 74.5,19.3 62.2,40.3 37.4,40.3"/>
<polygon points="25.0,65.3 37.4,44.3 62.2,44.3 74.5,65.3 62.2,86.3 37.4,86.3"/>
<polygon points="25.0,111.3 37.4,90.3 62.2,90.3 74.5,111.3 62.2,132.3 37.4,132.3"/>
<polygon points="25.0,157.3 37.4,136.3 62.2,136.3 74.5,157.3 62.2,178.3 37.4,178.3"/>
<polygon points="25.0,203.3 37.4,182.3 62.2,182.3 74.5,203.3 62.2,224.3 37.4,224.3"/>
<polygon points="65.4,-49.7 77.8,-70.7 102.5,-70.7 114.9,-49.7 102.5,-28.7 77.8,-28.7"/>
<polygon points="65.4,-3.7 77.8,-24.7 102.5,-24.7 114.9,-3.7 102.5,17.3 77.8,17.3"/>
<polygon points="65.4,42.3 77.8,21.3 102.5,21.3 114.9,42.3 102.5,63.3 77.8,63.3"/>
<polygon points="65.4,88.3 77.8,67.3 102.5,67.3 114.9,88.3 102.5,109.3 77.8,109.3"/>
<polygon points="65.4,134.3 77.8,113.3 102.5,113.3 114.9,134.3 102.5,155.3 77.8,155.3"/>
<polygon points="65.4,180.3 77.8,159.3 102.5,159.3 114.9,180.3 102.5,201.3 77.8,201.3"/>
<polygon points="105.8,-26.7 118.1,-47.7 142.9,-47.7 155.2,-26.7 142.9,-5.7 118.1,-5.7"/>
<polygon points="105.8,19.3 118.1,-1.7 142.9,-1.7 155.2,19.3 142.9,40.3 118.1,40.3"/>
<polygon points="105.8,65.3 118.1,44.3 142.9,44.3 155.2,65.3 142.9,86.3 118.1,86.3"/>
<polygon points="105.8,111.3 118.1,90.3 142.9,90.3 155.2,111.3 142.9,132.3 118.1,132.3"/>
<polygon points="105.8,157.3 118.1,136.3 142.9,136.3 155.2,157.3 142.9,178.3 118.1,178.3"/>
<polygon points="105.8,203.3 118.1,182.3 142.9,182.3 155.2,203.3 142.9,224.3 118.1,224.3"/>
<polygon points="146.1,-49.7 158.5,-70.7 183.2,-70.7 195.6,-49.7 183.2,-28.7 158.5,-28.7"/>
<polygon points="146.1,-3.7 158.5,-24.7 183.2,-24.7 195.6,-3.7 183.2,17.3 158.5,17.3"/>
<polygon points="146.1,42.3 158.5,21.3 183.2,21.3 195.6,42.3 183.2,63.3 158.5,63.3"/>
<polygon points="146.1,88.3 158.5,67.3 183.2,67.3 195.6,88.3 183.2,109.3 158.5,109.3"/>
<polygon points="146.1,134.3 158.5,113.3 183.2,113.3 195.6,134.3 183.2,155.3 158.5,155.3"/>
<polygon points="146.1,180.3 158.5,159.3 183.2,159.3 195.6,180.3 183.2,201.3 158.5,201.3"/>
<polygon points="186.4,-26.7 198.8,-47.7 223.6,-47.7 235.9,-26.7 223.6,-5.7 198.8,-5.7"/>
<polygon points="186.4,19.3 198.8,-1.7 223.6,-1.7 235.9,19.3 223.6,40.3 198.8,40.3"/>
<polygon points="186.4,65.3 198.8,44.3 223.6,44.3 235.9,65.3 223.6,86.3 198.8,86.3"/>
<polygon points="186.4,111.3 198.8,90.3 223.6,90.3 235.9,111.3 223.6,132.3 198.8,132.3"/>
<polygon points="186.4,157.3 198.8,136.3 223.6,136.3 235.9,157.3 223.6,178.3 198.8,178.3"/>
<polygon points="186.4,203.3 198.8,182.3 223.6,182.3 235.9,203.3 223.6,224.3 198.8,224.3"/>
<polygon points="226.8,-49.7 239.2,-70.7 263.9,-70.7 276.3,-49.7 263.9,-28.7 239.2,-28.7"/>
<polygon points="226.8,-3.7 239.2,-24.7 263.9,-24.7 276.3,-3.7 263.9,17.3 239.2,17.3"/>
<polygon points="226.8,42.3 239.2,21.3 263.9,21.3 276.3,42.3 263.9,63.3 239.2,63.3"/>
<polygon points="226.8,88.3 239.2,67.3 263.9,67.3 276.3,88.3 263.9,109.3 239.2,109.3"/>
<polygon points="226.8,134.3 239.2,113.3 263.9,113.3 276.3,134.3 263.9,155.3 239.2,155.3"/>
<polygon points="226.8,180.3 239.2,159.3 263.9,159.3 276.3,180.3 263.9,201.3 239.2,201.3"/>
<polygon points="267.1,-26.7 279.5,-47.7 304.3,-47.7 316.6,-26.7 304.3,-5.7 279.5,-5.7"/>
<polygon points="267.1,19.3 279.5,-1.7 304.3,-1.7 316.6,19.3 304.3,40.3 279.5,40.3"/>
<polygon points="267.1,65.3 279.5,44.3 304.3,44.3 316.6,65.3 304.3,86.3 279.5,86.3"/>
<polygon points="267.1,111.3 279.5,90.3 304.3,90.3 316.6,111.3 304.3,132.3 279.5,132.3"/>
<polygon points="267.1,157.3 279.5,136.3 304.3,136.3 316.6,157.3 304.3,178.3 279.5,178.3"/>
<polygon points="267.1,203.3 279.5,182.3 304.3,182.3 316.6,203.3 304.3,224.3 279.5,224.3"/>
<polygon points="307.5,-49.7 319.9,-70.7 344.6,-70.7 357.0,-49.7 344.6,-28.7 319.9,-28.7"/>
<polygon points="307.5,-3.7 319.9,-24.7 344.6,-24.7 357.0,-3.7 344.6,17.3 319.9,17.3"/>
<polygon points="307.5,42.3 319.9,21.3 344.6,21.3 357.0,42.3 344.6,63.3 319.9,63.3"/>
<polygon points="307.5,88.3 319.9,67.3 344.6,67.3 357.0,88.3 344.6,109.3 319.9,109.3"/>
<polygon points="307.5,134.3 319.9,113.3 344.6,113.3 357.0,134.3 344.6,155.3 319.9,155.3"/>
<polygon points="307.5,180.3 319.9,159.3 344.6,159.3 357.0,180.3 344.6,201.3 319.9,201.3"/>
<polygon points="347.9,-26.7 360.2,-47.7 385.0,-47.7 397.4,-26.7 385.0,-5.7 360.2,-5.7"/>
<polygon points="347.9,19.3 360.2,-1.7 385.0,-1.7 397.4,19.3 385.0,40.3 360.2,40.3"/>
<polygon points="347.9,65.3 360.2,44.3 385.0,44.3 397.4,65.3 385.0,86.3 360.2,86.3"/>
<polygon points="347.9,111.3 360.2,90.3 385.0,90.3 397.4,111.3 385.0,132.3 360.2,132.3"/>
<polygon points="347.9,157.3 360.2,136.3 385.0,136.3 397.4,157.3 385.0,178.3 360.2,178.3"/>
<polygon points="347.9,203.3 360.2,182.3 385.0,182.3 397.4,203.3 385.0,224.3 360.2,224.3"/>
<polygon points="388.2,-49.7 400.6,-70.7 425.3,-70.7 437.7,-49.7 425.3,-28.7 400.6,-28.7"/>
<polygon points="388.2,-3.7 400.6,-24.7 425.3,-24.7 437.7,-3.7 425.3,17.3 400.6,17.3"/>
<polygon points="388.2,42.3 400.6,21.3 425.3,21.3 437.7,42.3 425.3,63.3 400.6,63.3"/>
<polygon points="388.2,88.3 400.6,67.3 425.3,67.3 437.7,88.3 425.3,109.3 400.6,109.3"/>
<polygon points="388.2,134.3 400.6,113.3 425.3,113.3 437.7,134.3 425.3,155.3 400.6,155.3"/>
<polygon points="388.2,180.3 400.6,159.3 425.3,159.3 437.7,180.3 425.3,201.3 400.6,201.3"/>
<polygon points="428.6,-26.7 440.9,-47.7 465.7,-47.7 478.1,-26.7 465.7,-5.7 440.9,-5.7"/>
<polygon points="428.6,19.3 440.9,-1.7 465.7,-1.7 478.1,19.3 465.7,40.3 440.9,40.3"/>
<polygon points="428.6,65.3 440.9,44.3 465.7,44.3 478.1,65.3 465.7,86.3 440.9,86.3"/>
<polygon points="428.6,111.3 440.9,90.3 465.7,90.3 478.1,111.3 465.7,132.3 440.9,132.3"/>
<polygon points="428.6,157.3 440.9,136.3 465.7,136.3 478.1,157.3 465.7,178.3 440.9,178.3"/>
<polygon points="428.6,203.3 440.9,182.3 465.7,182.3 478.1,203.3 465.7,224.3 440.9,224.3"/>
<polygon points="468.9,-49.7 481.3,-70.7 506.0,-70.7 518.4,-49.7 506.0,-28.7 481.3,-28.7"/>
<polygon points="468.9,-3.7 481.3,-24.7 506.0,-24.7 518.4,-3.7 506.0,17.3 481.3,17.3"/>
<polygon points="468.9,42.3 481.3,21.3 506.0,21.3 518.4,42.3 506.0,63.3 481.3,63.3"/>
<polygon points="468.9,88.3 481.3,67.3 506.0,67.3 518.4,88.3 506.0,109.3 481.3,109.3"/>
<polygon points="468.9,134.3 481.3,113.3 506.0,113.3 518.4,134.3 506.0,155.3 481.3,155.3"/>
<polygon points="468.9,180.3 481.3,159.3 506.0,159.3 518.4,180.3 506.0,201.3 481.3,201.3"/>
<polygon points="509.3,-26.7 521.6,-47.7 546.4,-47.7 558.8,-26.7 546.4,-5.7 521.6,-5.7"/>
<polygon points="509.3,19.3 521.6,-1.7 546.4,-1.7 558.8,19.3 546.4,40.3 521.6,40.3"/>
<polygon points="509.3,65.3 521.6,44.3 546.4,44.3 558.8,65.3 546.4,86.3 521.6,86.3"/>
<polygon points="509.3,111.3 521.6,90.3 546.4,90.3 558.8,111.3 546.4,132.3 521.6,132.3"/>
<polygon points="509.3,157.3 521.6,136.3 546.4,136.3 558.8,157.3 546.4,178.3 521.6,178.3"/>
<polygon points="509.3,203.3 521.6,182.3 546.4,182.3 558.8,203.3 546.4,224.3 521.6,224.3"/>
<polygon points="549.6,-49.7 562.0,-70.7 586.7,-70.7 599.1,-49.7 586.7,-28.7 562.0,-28.7"/>
<polygon points="549.6,-3.7 562.0,-24.7 586.7,-24.7 599.1,-3.7 586.7,17.3 562.0,17.3"/>
<polygon points="549.6,42.3 562.0,21.3 586.7,21.3 599.1,42.3 586.7,63.3 562.0,63.3"/>
<polygon points="549.6,88.3 562.0,67.3 586.7,67.3 599.1,88.3 586.7,109.3 562.0,109.3"/>
<polygon points="549.6,134.3 562.0,113.3 586.7,113.3 599.1,134.3 586.7,155.3 562.0,155.3"/>
<polygon points="549.6,180.3 562.0,159.3 586.7,159.3 599.1,180.3 586.7,201.3 562.0,201.3"/>
<polygon points="590.0,-26.7 602.3,-47.7 627.1,-47.7 639.5,-26.7 627.1,-5.7 602.3,-5.7"/>
<polygon points="590.0,19.3 602.3,-1.7 627.1,-1.7 639.5,19.3 627.1,40.3 602.3,40.3"/>
<polygon points="590.0,65.3 602.3,44.3 627.1,44.3 639.5,65.3 627.1,86.3 602.3,86.3"/>
<polygon points="590.0,111.3 602.3,90.3 627.1,90.3 639.5,111.3 627.1,132.3 602.3,132.3"/>
<polygon points="590.0,157.3 602.3,136.3 627.1,136.3 639.5,157.3 627.1,178.3 602.3,178.3"/>
<polygon points="590.0,203.3 602.3,182.3 627.1,182.3 639.5,203.3 627.1,224.3 602.3,224.3"/>
<polygon points="630.3,-49.7 642.7,-70.7 667.4,-70.7 679.8,-49.7 667.4,-28.7 642.7,-28.7"/>
<polygon points="630.3,-3.7 642.7,-24.7 667.4,-24.7 679.8,-3.7 667.4,17.3 642.7,17.3"/>
<polygon points="630.3,42.3 642.7,21.3 667.4,21.3 679.8,42.3 667.4,63.3 642.7,63.3"/>
<polygon points="630.3,88.3 642.7,67.3 667.4,67.3 679.8,88.3 667.4,109.3 642.7,109.3"/>
<polygon points="630.3,134.3 642.7,113.3 667.4,113.3 679.8,134.3 667.4,155.3 642.7,155.3"/>
<polygon points="630.3,180.3 642.7,159.3 667.4,159.3 679.8,180.3 667.4,201.3 642.7,201.3"/>
<polygon points="670.7,-26.7 683.0,-47.7 707.8,-47.7 720.2,-26.7 707.8,-5.7 683.0,-5.7"/>
<polygon points="670.7,19.3 683.0,-1.7 707.8,-1.7 720.2,19.3 707.8,40.3 683.0,40.3"/>
<polygon points="670.7,65.3 683.0,44.3 707.8,44.3 720.2,65.3 707.8,86.3 683.0,86.3"/>
<polygon points="670.7,111.3 683.0,90.3 707.8,90.3 720.2,111.3 707.8,132.3 683.0,132.3"/>
<polygon points="670.7,157.3 683.0,136.3 707.8,136.3 720.2,157.3 707.8,178.3 683.0,178.3"/>
<polygon points="670.7,203.3 683.0,182.3 707.8,182.3 720.2,203.3 707.8,224.3 683.0,224.3"/>
<polygon points="711.0,-49.7 723.4,-70.7 748.1,-70.7 760.5,-49.7 748.1,-28.7 723.4,-28.7"/>
<polygon points="711.0,-3.7 723.4,-24.7 748.1,-24.7 760.5,-3.7 748.1,17.3 723.4,17.3"/>
<polygon points="711.0,42.3 723.4,21.3 748.1,21.3 760.5,42.3 748.1,63.3 723.4,63.3"/>
<polygon points="711.0,88.3 723.4,67.3 748.1,67.3 760.5,88.3 748.1,109.3 723.4,109.3"/>
<polygon points="711.0,134.3 723.4,113.3 748.1,113.3 760.5,134.3 748.1,155.3 723.4,155.3"/>
<polygon points="711.0,180.3 723.4,159.3 748.1,159.3 760.5,180.3 748.1,201.3 723.4,201.3"/>
<polygon points="751.4,-26.7 763.7,-47.7 788.5,-47.7 800.9,-26.7 788.5,-5.7 763.7,-5.7"/>
<polygon points="751.4,19.3 763.7,-1.7 788.5,-1.7 800.9,19.3 788.5,40.3 763.7,40.3"/>
<polygon points="751.4,65.3 763.7,44.3 788.5,44.3 800.9,65.3 788.5,86.3 763.7,86.3"/>
<polygon points="751.4,111.3 763.7,90.3 788.5,90.3 800.9,111.3 788.5,132.3 763.7,132.3"/>
<polygon points="751.4,157.3 763.7,136.3 788.5,136.3 800.9,157.3 788.5,178.3 763.7,178.3"/>
<polygon points="751.4,203.3 763.7,182.3 788.5,182.3 800.9,203.3 788.5,224.3 763.7,224.3"/>
<polygon points="791.7,-49.7 804.1,-70.7 828.8,-70.7 841.2,-49.7 828.8,-28.7 804.1,-28.7"/>
<polygon points="791.7,-3.7 804.1,-24.7 828.8,-24.7 841.2,-3.7 828.8,17.3 804.1,17.3"/>
<polygon points="791.7,42.3 804.1,21.3 828.8,21.3 841.2,42.3 828.8,63.3 804.1,63.3"/>
<polygon points="791.7,88.3 804.1,67.3 828.8,67.3 841.2,88.3 828.8,109.3 804.1,109.3"/>
<polygon points="791.7,134.3 804.1,113.3 828.8,113.3 841.2,134.3 828.8,155.3 804.1,155.3"/>
<polygon points="791.7,180.3 804.1,159.3 828.8,159.3 841.2,180.3 828.8,201.3 804.1,201.3"/>
<polygon points="832.1,-26.7 844.4,-47.7 869.2,-47.7 881.6,-26.7 869.2,-5.7 844.4,-5.7"/>
<polygon points="832.1,19.3 844.4,-1.7 869.2,-1.7 881.6,19.3 869.2,40.3 844.4,40.3"/>
<polygon points="832.1,65.3 844.4,44.3 869.2,44.3 881.6,65.3 869.2,86.3 844.4,86.3"/>
<polygon points="832.1,111.3 844.4,90.3 869.2,90.3 881.6,111.3 869.2,132.3 844.4,132.3"/>
<polygon points="832.1,157.3 844.4,136.3 869.2,136.3 881.6,157.3 869.2,178.3 844.4,178.3"/>
<polygon points="832.1,203.3 844.4,182.3 869.2,182.3 881.6,203.3 869.2,224.3 844.4,224.3"/>
<polygon points="872.4,-49.7 884.8,-70.7 909.5,-70.7 921.9,-49.7 909.5,-28.7 884.8,-28.7"/>
<polygon points="872.4,-3.7 884.8,-24.7 909.5,-24.7 921.9,-3.7 909.5,17.3 884.8,17.3"/>
<polygon points="872.4,42.3 884.8,21.3 909.5,21.3 921.9,42.3 909.5,63.3 884.8,63.3"/>
<polygon points="872.4,88.3 884.8,67.3 909.5,67.3 921.9,88.3 909.5,109.3 884.8,109.3"/>
<polygon points="872.4,134.3 884.8,113.3 909.5,113.3 921.9,134.3 909.5,155.3 884.8,155.3"/>
<polygon points="872.4,180.3 884.8,159.3 909.5,159.3 921.9,180.3 909.5,201.3 884.8,201.3"/>
<polygon points="912.8,-26.7 925.1,-47.7 949.9,-47.7 962.3,-26.7 949.9,-5.7 925.1,-5.7"/>
<polygon points="912.8,19.3 925.1,-1.7 949.9,-1.7 962.3,19.3 949.9,40.3 925.1,40.3"/>
<polygon points="912.8,65.3 925.1,44.3 949.9,44.3 962.3,65.3 949.9,86.3 925.1,86.3"/>
<polygon points="912.8,111.3 925.1,90.3 949.9,90.3 962.3,111.3 949.9,132.3 925.1,132.3"/>
<polygon points="912.8,157.3 925.1,136.3 949.9,136.3 962.3,157.3 949.9,178.3 925.1,178.3"/>
<polygon points="912.8,203.3 925.1,182.3 949.9,182.3 962.3,203.3 949.9,224.3 925.1,224.3"/>
<polygon points="953.1,-49.7 965.5,-70.7 990.2,-70.7 1002.6,-49.7 990.2,-28.7 965.5,-28.7"/>
<polygon points="953.1,-3.7 965.5,-24.7 990.2,-24.7 1002.6,-3.7 990.2,17.3 965.5,17.3"/>
<polygon points="953.1,42.3 965.5,21.3 990.2,21.3 1002.6,42.3 990.2,63.3 965.5,63.3"/>
<polygon points="953.1,88.3 965.5,67.3 990.2,67.3 1002.6,88.3 990.2,109.3 965.5,109.3"/>
<polygon points="953.1,134.3 965.5,113.3 990.2,113.3 1002.6,134.3 990.2,155.3 965.5,155.3"/>
<polygon points="953.1,180.3 965.5,159.3 990.2,159.3 1002.6,180.3 990.2,201.3 965.5,201.3"/>
<polygon points="993.5,-26.7 1005.8,-47.7 1030.6,-47.7 1043.0,-26.7 1030.6,-5.7 1005.8,-5.7"/>
<polygon points="993.5,19.3 1005.8,-1.7 1030.6,-1.7 1043.0,19.3 1030.6,40.3 1005.8,40.3"/>
<polygon points="993.5,65.3 1005.8,44.3 1030.6,44.3 1043.0,65.3 1030.6,86.3 1005.8,86.3"/>
<polygon points="993.5,111.3 1005.8,90.3 1030.6,90.3 1043.0,111.3 1030.6,132.3 1005.8,132.3"/>
<polygon points="993.5,157.3 1005.8,136.3 1030.6,136.3 1043.0,157.3 1030.6,178.3 1005.8,178.3"/>
<polygon points="993.5,203.3 1005.8,182.3 1030.6,182.3 1043.0,203.3 1030.6,224.3 1005.8,224.3"/>
<polygon points="1033.8,-49.7 1046.2,-70.7 1070.9,-70.7 1083.3,-49.7 1070.9,-28.7 1046.2,-28.7"/>
<polygon points="1033.8,-3.7 1046.2,-24.7 1070.9,-24.7 1083.3,-3.7 1070.9,17.3 1046.2,17.3"/>
<polygon points="1033.8,42.3 1046.2,21.3 1070.9,21.3 1083.3,42.3 1070.9,63.3 1046.2,63.3"/>
<polygon points="1033.8,88.3 1046.2,67.3 1070.9,67.3 1083.3,88.3 1070.9,109.3 1046.2,109.3"/>
<polygon points="1033.8,134.3 1046.2,113.3 1070.9,113.3 1083.3,134.3 1070.9,155.3 1046.2,155.3"/>
<polygon points="1033.8,180.3 1046.2,159.3 1070.9,159.3 1083.3,180.3 1070.9,201.3 1046.2,201.3"/>
</g>
<rect x="250" y="0" width="500" height="134" fill="url(#hdrk)"/>
<g fill="none" stroke="#5e5e5e" stroke-width="0.7">
<polygon points="-39.0,48.0 7.0,-31.7 99.0,-31.7 145.0,48.0 99.0,127.7 7.0,127.7"/>
<polygon points="117.5,-44.3 165.0,-126.6 260.0,-126.6 307.5,-44.3 260.0,38.0 165.0,38.0"/>
<polygon points="114.0,137.2 160.0,57.5 252.0,57.5 298.0,137.2 252.0,216.9 160.0,216.9"/>
<polygon points="-39.0,225.0 7.0,145.3 99.0,145.3 145.0,225.0 99.0,304.7 7.0,304.7"/>
</g>
<g mask="url(#pmask)">
<g filter="url(#soft)">
<rect x="680" y="-10" width="360" height="160" fill="#1b1b1b"/>
<polygon points="693.0,-12.0 703.0,-17.0 703.0,43.1 693.0,46.6" fill="rgb(80,80,80)" stroke="#1e1e1e" stroke-width="1.0"/>
<line x1="694.7" y1="-11.3" x2="694.7" y2="44.5" stroke="rgb(92,92,92)" stroke-width="0.83"/>
<line x1="696.3" y1="-12.2" x2="696.3" y2="43.9" stroke="rgb(88,88,88)" stroke-width="0.83"/>
<line x1="698.0" y1="-13.0" x2="698.0" y2="43.3" stroke="rgb(96,96,96)" stroke-width="0.83"/>
<line x1="699.7" y1="-13.8" x2="699.7" y2="42.8" stroke="rgb(70,70,70)" stroke-width="0.83"/>
<line x1="701.3" y1="-14.7" x2="701.3" y2="42.2" stroke="rgb(70,70,70)" stroke-width="0.83"/>
<line x1="694.3" y1="-11.4" x2="694.3" y2="44.9" stroke="rgb(135,135,135)" stroke-width="0.50"/>
<line x1="696.6" y1="-12.6" x2="696.6" y2="44.1" stroke="rgb(135,135,135)" stroke-width="0.50"/>
<line x1="698.0" y1="-13.3" x2="698.0" y2="43.6" stroke="rgb(25,25,25)" stroke-width="0.50"/>
<line x1="699.4" y1="-14.0" x2="699.4" y2="43.2" stroke="rgb(135,135,135)" stroke-width="0.50"/>
<line x1="701.7" y1="-15.2" x2="701.7" y2="42.4" stroke="rgb(135,135,135)" stroke-width="0.50"/>
<polygon points="693.0,46.6 703.0,43.1 703.0,85.2 693.0,87.1" fill="rgb(100,100,100)" stroke="#1e1e1e" stroke-width="1.0"/>
<line x1="694.7" y1="47.5" x2="694.7" y2="85.3" stroke="rgb(86,86,86)" stroke-width="0.83"/>
<line x1="696.3" y1="46.9" x2="696.3" y2="85.0" stroke="rgb(109,109,109)" stroke-width="0.83"/>
<line x1="698.0" y1="46.3" x2="698.0" y2="84.7" stroke="rgb(86,86,86)" stroke-width="0.83"/>
<line x1="699.7" y1="45.8" x2="699.7" y2="84.4" stroke="rgb(91,91,91)" stroke-width="0.83"/>
<line x1="701.3" y1="45.2" x2="701.3" y2="84.1" stroke="rgb(86,86,86)" stroke-width="0.83"/>
<line x1="694.3" y1="47.3" x2="694.3" y2="85.7" stroke="rgb(138,138,138)" stroke-width="0.50"/>
<line x1="696.6" y1="46.5" x2="696.6" y2="85.3" stroke="rgb(138,138,138)" stroke-width="0.50"/>
<line x1="698.0" y1="46.0" x2="698.0" y2="85.0" stroke="rgb(55,55,55)" stroke-width="0.50"/>
<line x1="699.4" y1="45.6" x2="699.4" y2="84.7" stroke="rgb(138,138,138)" stroke-width="0.50"/>
<line x1="701.7" y1="44.8" x2="701.7" y2="84.3" stroke="rgb(138,138,138)" stroke-width="0.50"/>
<polygon points="693.0,87.1 703.0,85.2 703.0,120.3 693.0,120.7" fill="rgb(100,100,100)" stroke="#1e1e1e" stroke-width="1.0"/>
<line x1="694.7" y1="88.3" x2="694.7" y2="119.1" stroke="rgb(86,86,86)" stroke-width="0.83"/>
<line x1="696.3" y1="88.0" x2="696.3" y2="119.0" stroke="rgb(112,112,112)" stroke-width="0.83"/>
<line x1="698.0" y1="87.7" x2="698.0" y2="119.0" stroke="rgb(112,112,112)" stroke-width="0.83"/>
<line x1="699.7" y1="87.4" x2="699.7" y2="118.9" stroke="rgb(86,86,86)" stroke-width="0.83"/>
<line x1="701.3" y1="87.1" x2="701.3" y2="118.9" stroke="rgb(91,91,91)" stroke-width="0.83"/>
<line x1="694.3" y1="88.1" x2="694.3" y2="119.4" stroke="rgb(138,138,138)" stroke-width="0.50"/>
<line x1="696.6" y1="87.7" x2="696.6" y2="119.3" stroke="rgb(138,138,138)" stroke-width="0.50"/>
<line x1="698.0" y1="87.4" x2="698.0" y2="119.3" stroke="rgb(55,55,55)" stroke-width="0.50"/>
<line x1="699.4" y1="87.1" x2="699.4" y2="119.2" stroke="rgb(138,138,138)" stroke-width="0.50"/>
<line x1="701.7" y1="86.7" x2="701.7" y2="119.2" stroke="rgb(138,138,138)" stroke-width="0.50"/>
<polygon points="693.0,120.7 703.0,120.3 703.0,154.5 693.0,153.3" fill="rgb(90,90,90)" stroke="#1e1e1e" stroke-width="1.0"/>
<line x1="694.7" y1="122.1" x2="694.7" y2="152.0" stroke="rgb(80,80,80)" stroke-width="0.83"/>
<line x1="696.3" y1="122.0" x2="696.3" y2="152.2" stroke="rgb(106,106,106)" stroke-width="0.83"/>
<line x1="698.0" y1="122.0" x2="698.0" y2="152.4" stroke="rgb(80,80,80)" stroke-width="0.83"/>
<line x1="699.7" y1="121.9" x2="699.7" y2="152.6" stroke="rgb(80,80,80)" stroke-width="0.83"/>
<line x1="701.3" y1="121.9" x2="701.3" y2="152.8" stroke="rgb(98,98,98)" stroke-width="0.83"/>
<line x1="694.3" y1="121.8" x2="694.3" y2="152.2" stroke="rgb(145,145,145)" stroke-width="0.50"/>
<line x1="696.6" y1="121.7" x2="696.6" y2="152.5" stroke="rgb(145,145,145)" stroke-width="0.50"/>
<line x1="698.0" y1="121.7" x2="698.0" y2="152.7" stroke="rgb(25,25,25)" stroke-width="0.50"/>
<line x1="699.4" y1="121.6" x2="699.4" y2="152.8" stroke="rgb(145,145,145)" stroke-width="0.50"/>
<line x1="701.7" y1="121.6" x2="701.7" y2="153.1" stroke="rgb(145,145,145)" stroke-width="0.50"/>
<polygon points="703.0,-17.0 713.6,-22.3 713.6,39.4 703.0,43.1" fill="rgb(80,80,80)" stroke="#1e1e1e" stroke-width="1.0"/>
<line x1="704.8" y1="-16.4" x2="704.8" y2="41.0" stroke="rgb(70,70,70)" stroke-width="0.88"/>
<line x1="706.5" y1="-17.3" x2="706.5" y2="40.4" stroke="rgb(96,96,96)" stroke-width="0.88"/>
<line x1="708.3" y1="-18.1" x2="708.3" y2="39.7" stroke="rgb(70,70,70)" stroke-width="0.88"/>
<line x1="710.1" y1="-19.0" x2="710.1" y2="39.1" stroke="rgb(88,88,88)" stroke-width="0.88"/>
<line x1="711.8" y1="-19.9" x2="711.8" y2="38.5" stroke="rgb(70,70,70)" stroke-width="0.88"/>
<line x1="704.4" y1="-16.5" x2="704.4" y2="41.4" stroke="rgb(135,135,135)" stroke-width="0.50"/>
<line x1="706.8" y1="-17.7" x2="706.8" y2="40.6" stroke="rgb(135,135,135)" stroke-width="0.50"/>
<line x1="708.3" y1="-18.4" x2="708.3" y2="40.0" stroke="rgb(25,25,25)" stroke-width="0.50"/>
<line x1="709.8" y1="-19.2" x2="709.8" y2="39.5" stroke="rgb(135,135,135)" stroke-width="0.50"/>
<line x1="712.2" y1="-20.4" x2="712.2" y2="38.7" stroke="rgb(135,135,135)" stroke-width="0.50"/>
<polygon points="703.0,43.1 713.6,39.4 713.6,83.2 703.0,85.2" fill="rgb(105,105,105)" stroke="#1e1e1e" stroke-width="1.0"/>
<line x1="704.8" y1="44.0" x2="704.8" y2="83.4" stroke="rgb(96,96,96)" stroke-width="0.88"/>
<line x1="706.5" y1="43.4" x2="706.5" y2="83.1" stroke="rgb(114,114,114)" stroke-width="0.88"/>
<line x1="708.3" y1="42.7" x2="708.3" y2="82.7" stroke="rgb(117,117,117)" stroke-width="0.88"/>
<line x1="710.1" y1="42.1" x2="710.1" y2="82.4" stroke="rgb(96,96,96)" stroke-width="0.88"/>
<line x1="711.8" y1="41.5" x2="711.8" y2="82.1" stroke="rgb(91,91,91)" stroke-width="0.88"/>
<line x1="704.4" y1="43.8" x2="704.4" y2="83.8" stroke="rgb(143,143,143)" stroke-width="0.50"/>
<line x1="706.8" y1="43.0" x2="706.8" y2="83.3" stroke="rgb(143,143,143)" stroke-width="0.50"/>
<line x1="708.3" y1="42.4" x2="708.3" y2="83.0" stroke="rgb(60,60,60)" stroke-width="0.50"/>
<line x1="709.8" y1="41.9" x2="709.8" y2="82.8" stroke="rgb(143,143,143)" stroke-width="0.50"/>
<line x1="712.2" y1="41.1" x2="712.2" y2="82.3" stroke="rgb(143,143,143)" stroke-width="0.50"/>
<polygon points="703.0,85.2 713.6,83.2 713.6,119.9 703.0,120.3" fill="rgb(110,110,110)" stroke="#1e1e1e" stroke-width="1.0"/>
<line x1="704.8" y1="86.4" x2="704.8" y2="118.7" stroke="rgb(119,119,119)" stroke-width="0.88"/>
<line x1="706.5" y1="86.1" x2="706.5" y2="118.7" stroke="rgb(101,101,101)" stroke-width="0.88"/>
<line x1="708.3" y1="85.7" x2="708.3" y2="118.6" stroke="rgb(96,96,96)" stroke-width="0.88"/>
<line x1="710.1" y1="85.4" x2="710.1" y2="118.6" stroke="rgb(101,101,101)" stroke-width="0.88"/>
<line x1="711.8" y1="85.1" x2="711.8" y2="118.5" stroke="rgb(119,119,119)" stroke-width="0.88"/>
<line x1="704.4" y1="86.2" x2="704.4" y2="119.1" stroke="rgb(148,148,148)" stroke-width="0.50"/>
<line x1="706.8" y1="85.7" x2="706.8" y2="119.0" stroke="rgb(148,148,148)" stroke-width="0.50"/>
<line x1="708.3" y1="85.4" x2="708.3" y2="118.9" stroke="rgb(65,65,65)" stroke-width="0.50"/>
<line x1="709.8" y1="85.2" x2="709.8" y2="118.9" stroke="rgb(148,148,148)" stroke-width="0.50"/>
<line x1="712.2" y1="84.7" x2="712.2" y2="118.8" stroke="rgb(148,148,148)" stroke-width="0.50"/>
<polygon points="703.0,120.3 713.6,119.9 713.6,155.8 703.0,154.5" fill="rgb(95,95,95)" stroke="#1e1e1e" stroke-width="1.0"/>
<line x1="704.8" y1="121.7" x2="704.8" y2="153.2" stroke="rgb(85,85,85)" stroke-width="0.88"/>
<line x1="706.5" y1="121.7" x2="706.5" y2="153.4" stroke="rgb(85,85,85)" stroke-width="0.88"/>
<line x1="708.3" y1="121.6" x2="708.3" y2="153.6" stroke="rgb(85,85,85)" stroke-width="0.88"/>
<line x1="710.1" y1="121.6" x2="710.1" y2="153.8" stroke="rgb(103,103,103)" stroke-width="0.88"/>
<line x1="711.8" y1="121.5" x2="711.8" y2="154.0" stroke="rgb(111,111,111)" stroke-width="0.88"/>
<line x1="704.4" y1="121.5" x2="704.4" y2="153.4" stroke="rgb(150,150,150)" stroke-width="0.50"/>
<line x1="706.8" y1="121.4" x2="706.8" y2="153.7" stroke="rgb(150,150,150)" stroke-width="0.50"/>
<line x1="708.3" y1="121.3" x2="708.3" y2="153.9" stroke="rgb(25,25,25)" stroke-width="0.50"/>
<line x1="709.8" y1="121.3" x2="709.8" y2="154.1" stroke="rgb(150,150,150)" stroke-width="0.50"/>
<line x1="712.2" y1="121.2" x2="712.2" y2="154.4" stroke="rgb(150,150,150)" stroke-width="0.50"/>
<polygon points="713.6,-22.3 735.4,-33.2 735.4,31.8 713.6,39.4" fill="rgb(85,85,85)" stroke="#1e1e1e" stroke-width="1.0"/>
<line x1="717.2" y1="-22.6" x2="717.2" y2="36.6" stroke="rgb(101,101,101)" stroke-width="1.82"/>
<line x1="720.9" y1="-24.4" x2="720.9" y2="35.3" stroke="rgb(97,97,97)" stroke-width="1.82"/>
<line x1="724.5" y1="-26.2" x2="724.5" y2="34.1" stroke="rgb(101,101,101)" stroke-width="1.82"/>
<line x1="728.1" y1="-28.1" x2="728.1" y2="32.8" stroke="rgb(101,101,101)" stroke-width="1.82"/>
<line x1="731.8" y1="-29.9" x2="731.8" y2="31.5" stroke="rgb(97,97,97)" stroke-width="1.82"/>
<line x1="716.4" y1="-22.5" x2="716.4" y2="37.2" stroke="rgb(140,140,140)" stroke-width="0.50"/>
<line x1="721.4" y1="-25.0" x2="721.4" y2="35.4" stroke="rgb(140,140,140)" stroke-width="0.50"/>
<line x1="724.5" y1="-26.6" x2="724.5" y2="34.4" stroke="rgb(25,25,25)" stroke-width="0.63"/>
<line x1="727.6" y1="-28.1" x2="727.6" y2="33.3" stroke="rgb(140,140,140)" stroke-width="0.50"/>
<line x1="732.6" y1="-30.6" x2="732.6" y2="31.6" stroke="rgb(140,140,140)" stroke-width="0.50"/>
<rect x="721.0" y="18.3" width="2.3" height="1.1" fill="rgb(195,195,195)" opacity="0.75"/>
<rect x="721.0" y="5.2" width="2.3" height="1.5" fill="rgb(175,175,175)" opacity="0.75"/>
<polygon points="713.6,39.4 735.4,31.8 735.4,79.1 713.6,83.2" fill="rgb(120,120,120)" stroke="#1e1e1e" stroke-width="1.0"/>
<line x1="717.2" y1="39.6" x2="717.2" y2="81.0" stroke="rgb(106,106,106)" stroke-width="1.82"/>
<line x1="720.9" y1="38.3" x2="720.9" y2="80.3" stroke="rgb(106,106,106)" stroke-width="1.82"/>
<line x1="724.5" y1="37.1" x2="724.5" y2="79.7" stroke="rgb(132,132,132)" stroke-width="1.82"/>
<line x1="728.1" y1="35.8" x2="728.1" y2="79.0" stroke="rgb(111,111,111)" stroke-width="1.82"/>
<line x1="731.8" y1="34.5" x2="731.8" y2="78.3" stroke="rgb(129,129,129)" stroke-width="1.82"/>
<line x1="716.4" y1="39.6" x2="716.4" y2="81.5" stroke="rgb(158,158,158)" stroke-width="0.50"/>
<line x1="721.4" y1="37.8" x2="721.4" y2="80.5" stroke="rgb(158,158,158)" stroke-width="0.50"/>
<line x1="724.5" y1="36.8" x2="724.5" y2="80.0" stroke="rgb(75,75,75)" stroke-width="0.63"/>
<line x1="727.6" y1="35.7" x2="727.6" y2="79.4" stroke="rgb(158,158,158)" stroke-width="0.50"/>
<line x1="732.6" y1="34.0" x2="732.6" y2="78.4" stroke="rgb(158,158,158)" stroke-width="0.50"/>
<rect x="718.4" y="59.7" width="2.4" height="1.1" fill="rgb(85,85,85)" opacity="0.75"/>
<rect x="725.5" y="67.3" width="2.1" height="1.6" fill="rgb(65,65,65)" opacity="0.75"/>
<polygon points="713.6,83.2 735.4,79.1 735.4,119.2 713.6,119.9" fill="rgb(125,125,125)" stroke="#1e1e1e" stroke-width="1.0"/>
<line x1="717.2" y1="84.0" x2="717.2" y2="118.3" stroke="rgb(137,137,137)" stroke-width="1.82"/>
<line x1="720.9" y1="83.3" x2="720.9" y2="118.2" stroke="rgb(137,137,137)" stroke-width="1.82"/>
<line x1="724.5" y1="82.7" x2="724.5" y2="118.1" stroke="rgb(111,111,111)" stroke-width="1.82"/>
<line x1="728.1" y1="82.0" x2="728.1" y2="117.9" stroke="rgb(111,111,111)" stroke-width="1.82"/>
<line x1="731.8" y1="81.3" x2="731.8" y2="117.8" stroke="rgb(134,134,134)" stroke-width="1.82"/>
<line x1="716.4" y1="83.9" x2="716.4" y2="118.6" stroke="rgb(163,163,163)" stroke-width="0.50"/>
<line x1="721.4" y1="82.9" x2="721.4" y2="118.5" stroke="rgb(163,163,163)" stroke-width="0.50"/>
<line x1="724.5" y1="82.4" x2="724.5" y2="118.4" stroke="rgb(80,80,80)" stroke-width="0.63"/>
<line x1="727.6" y1="81.8" x2="727.6" y2="118.3" stroke="rgb(163,163,163)" stroke-width="0.50"/>
<line x1="732.6" y1="80.8" x2="732.6" y2="118.1" stroke="rgb(163,163,163)" stroke-width="0.50"/>
<rect x="724.0" y="104.8" width="2.3" height="1.5" fill="rgb(90,90,90)" opacity="0.75"/>
<rect x="725.9" y="105.1" width="2.1" height="1.6" fill="rgb(70,70,70)" opacity="0.75"/>
<polygon points="713.6,119.9 735.4,119.2 735.4,158.4 713.6,155.8" fill="rgb(100,100,100)" stroke="#1e1e1e" stroke-width="1.0"/>
<line x1="717.2" y1="121.3" x2="717.2" y2="154.7" stroke="rgb(109,109,109)" stroke-width="1.82"/>
<line x1="720.9" y1="121.2" x2="720.9" y2="155.1" stroke="rgb(86,86,86)" stroke-width="1.82"/>
<line x1="724.5" y1="121.1" x2="724.5" y2="155.6" stroke="rgb(112,112,112)" stroke-width="1.82"/>
<line x1="728.1" y1="120.9" x2="728.1" y2="156.0" stroke="rgb(109,109,109)" stroke-width="1.82"/>
<line x1="731.8" y1="120.8" x2="731.8" y2="156.4" stroke="rgb(91,91,91)" stroke-width="1.82"/>
<line x1="716.4" y1="121.0" x2="716.4" y2="154.9" stroke="rgb(138,138,138)" stroke-width="0.50"/>
<line x1="721.4" y1="120.9" x2="721.4" y2="155.5" stroke="rgb(138,138,138)" stroke-width="0.50"/>
<line x1="724.5" y1="120.8" x2="724.5" y2="155.9" stroke="rgb(55,55,55)" stroke-width="0.63"/>
<line x1="727.6" y1="120.7" x2="727.6" y2="156.2" stroke="rgb(138,138,138)" stroke-width="0.50"/>
<line x1="732.6" y1="120.5" x2="732.6" y2="156.8" stroke="rgb(138,138,138)" stroke-width="0.50"/>
<rect x="726.4" y="138.2" width="2.3" height="1.2" fill="rgb(65,65,65)" opacity="0.75"/>
<rect x="720.1" y="135.3" width="2.0" height="1.7" fill="rgb(45,45,45)" opacity="0.75"/>
<polygon points="735.4,-33.2 757.3,-44.1 757.3,24.1 735.4,31.8" fill="rgb(85,85,85)" stroke="#1e1e1e" stroke-width="1.0"/>
<line x1="739.0" y1="-33.5" x2="739.0" y2="29.0" stroke="rgb(97,97,97)" stroke-width="1.82"/>
<line x1="742.7" y1="-35.3" x2="742.7" y2="27.7" stroke="rgb(93,93,93)" stroke-width="1.82"/>
<line x1="746.3" y1="-37.2" x2="746.3" y2="26.4" stroke="rgb(101,101,101)" stroke-width="1.82"/>
<line x1="750.0" y1="-39.0" x2="750.0" y2="25.1" stroke="rgb(97,97,97)" stroke-width="1.82"/>
<line x1="753.6" y1="-40.8" x2="753.6" y2="23.9" stroke="rgb(101,101,101)" stroke-width="1.82"/>
<line x1="738.2" y1="-33.4" x2="738.2" y2="29.6" stroke="rgb(140,140,140)" stroke-width="0.50"/>
<line x1="743.3" y1="-35.9" x2="743.3" y2="27.8" stroke="rgb(140,140,140)" stroke-width="0.50"/>
<line x1="746.3" y1="-37.5" x2="746.3" y2="26.7" stroke="rgb(25,25,25)" stroke-width="0.63"/>
<line x1="749.4" y1="-39.0" x2="749.4" y2="25.7" stroke="rgb(140,140,140)" stroke-width="0.50"/>
<line x1="754.5" y1="-41.5" x2="754.5" y2="23.9" stroke="rgb(140,140,140)" stroke-width="0.50"/>
<rect x="754.9" y="-0.3" width="2.4" height="1.2" fill="rgb(175,175,175)" opacity="0.75"/>
<rect x="740.7" y="-15.3" width="2.0" height="2.3" fill="rgb(145,145,145)" opacity="0.75"/>
<polygon points="735.4,31.8 757.3,24.1 757.3,74.9 735.4,79.1" fill="rgb(150,150,150)" stroke="#1e1e1e" stroke-width="1.0"/>
<line x1="739.0" y1="32.0" x2="739.0" y2="76.9" stroke="rgb(141,141,141)" stroke-width="1.82"/>
<line x1="742.7" y1="30.7" x2="742.7" y2="76.2" stroke="rgb(159,159,159)" stroke-width="1.82"/>
<line x1="746.3" y1="29.4" x2="746.3" y2="75.5" stroke="rgb(159,159,159)" stroke-width="1.82"/>
<line x1="750.0" y1="28.1" x2="750.0" y2="74.8" stroke="rgb(136,136,136)" stroke-width="1.82"/>
<line x1="753.6" y1="26.9" x2="753.6" y2="74.1" stroke="rgb(141,141,141)" stroke-width="1.82"/>
<line x1="738.2" y1="32.0" x2="738.2" y2="77.3" stroke="rgb(188,188,188)" stroke-width="0.50"/>
<line x1="743.3" y1="30.2" x2="743.3" y2="76.4" stroke="rgb(188,188,188)" stroke-width="0.50"/>
<line x1="746.3" y1="29.1" x2="746.3" y2="75.8" stroke="rgb(105,105,105)" stroke-width="0.63"/>
<line x1="749.4" y1="28.1" x2="749.4" y2="75.2" stroke="rgb(188,188,188)" stroke-width="0.50"/>
<line x1="754.5" y1="26.3" x2="754.5" y2="74.3" stroke="rgb(188,188,188)" stroke-width="0.50"/>
<rect x="744.9" y="48.4" width="2.1" height="1.2" fill="rgb(80,80,80)" opacity="0.75"/>
<rect x="752.6" y="66.6" width="2.3" height="1.1" fill="rgb(80,80,80)" opacity="0.75"/>
<polygon points="735.4,79.1 757.3,74.9 757.3,118.4 735.4,119.2" fill="rgb(140,140,140)" stroke="#1e1e1e" stroke-width="1.0"/>
<line x1="739.0" y1="79.9" x2="739.0" y2="117.5" stroke="rgb(152,152,152)" stroke-width="1.82"/>
<line x1="742.7" y1="79.2" x2="742.7" y2="117.4" stroke="rgb(152,152,152)" stroke-width="1.82"/>
<line x1="746.3" y1="78.5" x2="746.3" y2="117.3" stroke="rgb(152,152,152)" stroke-width="1.82"/>
<line x1="750.0" y1="77.8" x2="750.0" y2="117.2" stroke="rgb(152,152,152)" stroke-width="1.82"/>
<line x1="753.6" y1="77.1" x2="753.6" y2="117.0" stroke="rgb(126,126,126)" stroke-width="1.82"/>
<line x1="738.2" y1="79.7" x2="738.2" y2="117.9" stroke="rgb(178,178,178)" stroke-width="0.50"/>
<line x1="743.3" y1="78.8" x2="743.3" y2="117.7" stroke="rgb(178,178,178)" stroke-width="0.50"/>
<line x1="746.3" y1="78.2" x2="746.3" y2="117.6" stroke="rgb(95,95,95)" stroke-width="0.63"/>
<line x1="749.4" y1="77.6" x2="749.4" y2="117.5" stroke="rgb(178,178,178)" stroke-width="0.50"/>
<line x1="754.5" y1="76.7" x2="754.5" y2="117.3" stroke="rgb(178,178,178)" stroke-width="0.50"/>
<rect x="746.0" y="95.0" width="2.0" height="1.3" fill="rgb(105,105,105)" opacity="0.75"/>
<rect x="740.4" y="94.0" width="2.0" height="1.9" fill="rgb(105,105,105)" opacity="0.75"/>
<polygon points="735.4,119.2 757.3,118.4 757.3,161.0 735.4,158.4" fill="rgb(105,105,105)" stroke="#1e1e1e" stroke-width="1.0"/>
<line x1="739.0" y1="120.5" x2="739.0" y2="157.3" stroke="rgb(91,91,91)" stroke-width="1.82"/>
<line x1="742.7" y1="120.4" x2="742.7" y2="157.7" stroke="rgb(114,114,114)" stroke-width="1.82"/>
<line x1="746.3" y1="120.3" x2="746.3" y2="158.2" stroke="rgb(91,91,91)" stroke-width="1.82"/>
<line x1="750.0" y1="120.2" x2="750.0" y2="158.6" stroke="rgb(91,91,91)" stroke-width="1.82"/>
<line x1="753.6" y1="120.0" x2="753.6" y2="159.1" stroke="rgb(96,96,96)" stroke-width="1.82"/>
<line x1="738.2" y1="120.3" x2="738.2" y2="157.5" stroke="rgb(143,143,143)" stroke-width="0.50"/>
<line x1="743.3" y1="120.1" x2="743.3" y2="158.1" stroke="rgb(143,143,143)" stroke-width="0.50"/>
<line x1="746.3" y1="120.0" x2="746.3" y2="158.5" stroke="rgb(60,60,60)" stroke-width="0.63"/>
<line x1="749.4" y1="119.9" x2="749.4" y2="158.8" stroke="rgb(143,143,143)" stroke-width="0.50"/>
<line x1="754.5" y1="119.7" x2="754.5" y2="159.5" stroke="rgb(143,143,143)" stroke-width="0.50"/>
<rect x="748.3" y="129.2" width="2.4" height="2.0" fill="rgb(50,50,50)" opacity="0.75"/>
<rect x="745.9" y="128.2" width="2.4" height="1.7" fill="rgb(50,50,50)" opacity="0.75"/>
<polygon points="757.3,-44.1 782.5,-56.8 782.5,15.3 757.3,24.1" fill="rgb(80,80,80)" stroke="#1e1e1e" stroke-width="1.0"/>
<line x1="760.9" y1="-44.4" x2="760.9" y2="21.3" stroke="rgb(96,96,96)" stroke-width="1.80"/>
<line x1="764.5" y1="-46.2" x2="764.5" y2="20.1" stroke="rgb(92,92,92)" stroke-width="1.80"/>
<line x1="768.1" y1="-48.1" x2="768.1" y2="18.8" stroke="rgb(70,70,70)" stroke-width="1.80"/>
<line x1="771.7" y1="-49.8" x2="771.7" y2="17.6" stroke="rgb(88,88,88)" stroke-width="1.80"/>
<line x1="775.3" y1="-51.6" x2="775.3" y2="16.3" stroke="rgb(70,70,70)" stroke-width="1.80"/>
<line x1="778.9" y1="-53.4" x2="778.9" y2="15.0" stroke="rgb(92,92,92)" stroke-width="1.80"/>
<line x1="760.6" y1="-44.6" x2="760.6" y2="21.7" stroke="rgb(135,135,135)" stroke-width="0.50"/>
<line x1="766.4" y1="-47.5" x2="766.4" y2="19.7" stroke="rgb(135,135,135)" stroke-width="0.50"/>
<line x1="769.9" y1="-49.2" x2="769.9" y2="18.5" stroke="rgb(25,25,25)" stroke-width="0.73"/>
<line x1="773.4" y1="-51.0" x2="773.4" y2="17.3" stroke="rgb(135,135,135)" stroke-width="0.50"/>
<line x1="779.2" y1="-53.9" x2="779.2" y2="15.2" stroke="rgb(135,135,135)" stroke-width="0.50"/>
<rect x="774.7" y="-18.5" width="2.1" height="1.0" fill="rgb(190,190,190)" opacity="0.75"/>
<rect x="779.0" y="-17.8" width="2.6" height="2.5" fill="rgb(140,140,140)" opacity="0.75"/>
<polygon points="757.3,24.1 782.5,15.3 782.5,70.1 757.3,74.9" fill="rgb(68,68,68)" stroke="#1e1e1e" stroke-width="1.0"/>
<line x1="760.9" y1="24.3" x2="760.9" y2="72.7" stroke="rgb(80,80,80)" stroke-width="1.80"/>
<line x1="764.5" y1="23.1" x2="764.5" y2="72.1" stroke="rgb(58,58,58)" stroke-width="1.80"/>
<line x1="768.1" y1="21.8" x2="768.1" y2="71.4" stroke="rgb(80,80,80)" stroke-width="1.80"/>
<line x1="771.7" y1="20.6" x2="771.7" y2="70.7" stroke="rgb(80,80,80)" stroke-width="1.80"/>
<line x1="775.3" y1="19.3" x2="775.3" y2="70.0" stroke="rgb(76,76,76)" stroke-width="1.80"/>
<line x1="778.9" y1="18.0" x2="778.9" y2="69.3" stroke="rgb(80,80,80)" stroke-width="1.80"/>
<line x1="760.6" y1="24.1" x2="760.6" y2="73.1" stroke="rgb(123,123,123)" stroke-width="0.50"/>
<line x1="766.4" y1="22.1" x2="766.4" y2="72.0" stroke="rgb(123,123,123)" stroke-width="0.50"/>
<line x1="769.9" y1="20.9" x2="769.9" y2="71.3" stroke="rgb(25,25,25)" stroke-width="0.73"/>
<line x1="773.4" y1="19.7" x2="773.4" y2="70.7" stroke="rgb(123,123,123)" stroke-width="0.50"/>
<line x1="779.2" y1="17.6" x2="779.2" y2="69.6" stroke="rgb(123,123,123)" stroke-width="0.50"/>
<rect x="775.4" y="45.9" width="2.3" height="1.4" fill="rgb(178,178,178)" opacity="0.75"/>
<rect x="776.2" y="62.7" width="2.6" height="2.3" fill="rgb(128,128,128)" opacity="0.75"/>
<polygon points="757.3,74.9 782.5,70.1 782.5,117.5 757.3,118.4" fill="rgb(130,130,130)" stroke="#1e1e1e" stroke-width="1.0"/>
<line x1="760.9" y1="75.7" x2="760.9" y2="116.8" stroke="rgb(121,121,121)" stroke-width="1.80"/>
<line x1="764.5" y1="75.1" x2="764.5" y2="116.7" stroke="rgb(121,121,121)" stroke-width="1.80"/>
<line x1="768.1" y1="74.4" x2="768.1" y2="116.5" stroke="rgb(142,142,142)" stroke-width="1.80"/>
<line x1="771.7" y1="73.7" x2="771.7" y2="116.4" stroke="rgb(139,139,139)" stroke-width="1.80"/>
<line x1="775.3" y1="73.0" x2="775.3" y2="116.3" stroke="rgb(116,116,116)" stroke-width="1.80"/>
<line x1="778.9" y1="72.3" x2="778.9" y2="116.2" stroke="rgb(116,116,116)" stroke-width="1.80"/>
<line x1="760.6" y1="75.5" x2="760.6" y2="117.1" stroke="rgb(168,168,168)" stroke-width="0.50"/>
<line x1="766.4" y1="74.4" x2="766.4" y2="116.9" stroke="rgb(168,168,168)" stroke-width="0.50"/>
<line x1="769.9" y1="73.7" x2="769.9" y2="116.8" stroke="rgb(85,85,85)" stroke-width="0.73"/>
<line x1="773.4" y1="73.1" x2="773.4" y2="116.6" stroke="rgb(168,168,168)" stroke-width="0.50"/>
<line x1="779.2" y1="72.0" x2="779.2" y2="116.4" stroke="rgb(168,168,168)" stroke-width="0.50"/>
<rect x="775.7" y="93.7" width="2.6" height="2.5" fill="rgb(95,95,95)" opacity="0.75"/>
<rect x="768.8" y="109.2" width="2.8" height="1.6" fill="rgb(75,75,75)" opacity="0.75"/>
<polygon points="757.3,118.4 782.5,117.5 782.5,164.0 757.3,161.0" fill="rgb(100,100,100)" stroke="#1e1e1e" stroke-width="1.0"/>
<line x1="760.9" y1="119.8" x2="760.9" y2="159.9" stroke="rgb(91,91,91)" stroke-width="1.80"/>
<line x1="764.5" y1="119.7" x2="764.5" y2="160.4" stroke="rgb(86,86,86)" stroke-width="1.80"/>
<line x1="768.1" y1="119.5" x2="768.1" y2="160.8" stroke="rgb(91,91,91)" stroke-width="1.80"/>
<line x1="771.7" y1="119.4" x2="771.7" y2="161.2" stroke="rgb(112,112,112)" stroke-width="1.80"/>
<line x1="775.3" y1="119.3" x2="775.3" y2="161.7" stroke="rgb(91,91,91)" stroke-width="1.80"/>
<line x1="778.9" y1="119.2" x2="778.9" y2="162.1" stroke="rgb(109,109,109)" stroke-width="1.80"/>
<line x1="760.6" y1="119.5" x2="760.6" y2="160.2" stroke="rgb(138,138,138)" stroke-width="0.50"/>
<line x1="766.4" y1="119.3" x2="766.4" y2="160.9" stroke="rgb(138,138,138)" stroke-width="0.50"/>
<line x1="769.9" y1="119.2" x2="769.9" y2="161.3" stroke="rgb(55,55,55)" stroke-width="0.73"/>
<line x1="773.4" y1="119.0" x2="773.4" y2="161.7" stroke="rgb(138,138,138)" stroke-width="0.50"/>
<line x1="779.2" y1="118.8" x2="779.2" y2="162.4" stroke="rgb(138,138,138)" stroke-width="0.50"/>
<rect x="763.9" y="143.8" width="2.7" height="1.8" fill="rgb(30,30,30)" opacity="0.75"/>
<rect x="773.0" y="149.8" width="2.7" height="1.2" fill="rgb(65,65,65)" opacity="0.75"/>
<polygon points="782.5,-56.8 812.7,-71.9 812.7,4.7 782.5,15.3" fill="rgb(95,95,95)" stroke="#1e1e1e" stroke-width="1.1"/>
<line x1="785.9" y1="-56.9" x2="785.9" y2="12.6" stroke="rgb(111,111,111)" stroke-width="1.68"/>
<line x1="789.2" y1="-58.6" x2="789.2" y2="11.4" stroke="rgb(103,103,103)" stroke-width="1.68"/>
<line x1="792.6" y1="-60.3" x2="792.6" y2="10.3" stroke="rgb(111,111,111)" stroke-width="1.68"/>
<line x1="795.9" y1="-62.0" x2="795.9" y2="9.1" stroke="rgb(103,103,103)" stroke-width="1.68"/>
<line x1="799.3" y1="-63.6" x2="799.3" y2="7.9" stroke="rgb(111,111,111)" stroke-width="1.68"/>
<line x1="802.6" y1="-65.3" x2="802.6" y2="6.7" stroke="rgb(107,107,107)" stroke-width="1.68"/>
<line x1="806.0" y1="-67.0" x2="806.0" y2="5.6" stroke="rgb(85,85,85)" stroke-width="1.68"/>
<line x1="809.3" y1="-68.7" x2="809.3" y2="4.4" stroke="rgb(111,111,111)" stroke-width="1.68"/>
<line x1="786.4" y1="-57.5" x2="786.4" y2="12.7" stroke="rgb(150,150,150)" stroke-width="0.60"/>
<line x1="793.4" y1="-61.0" x2="793.4" y2="10.3" stroke="rgb(150,150,150)" stroke-width="0.60"/>
<line x1="797.6" y1="-63.1" x2="797.6" y2="8.8" stroke="rgb(25,25,25)" stroke-width="0.87"/>
<line x1="801.8" y1="-65.2" x2="801.8" y2="7.3" stroke="rgb(150,150,150)" stroke-width="0.60"/>
<line x1="808.8" y1="-68.7" x2="808.8" y2="4.9" stroke="rgb(150,150,150)" stroke-width="0.60"/>
<rect x="796.7" y="-14.1" width="3.0" height="1.3" fill="rgb(155,155,155)" opacity="0.75"/>
<rect x="788.6" y="-41.1" width="3.1" height="1.2" fill="rgb(185,185,185)" opacity="0.75"/>
<rect x="805.5" y="-5.1" width="3.3" height="1.2" fill="rgb(205,205,205)" opacity="0.75"/>
<polygon points="782.5,15.3 812.7,4.7 812.7,64.4 782.5,70.1" fill="rgb(120,120,120)" stroke="#1e1e1e" stroke-width="1.1"/>
<line x1="785.9" y1="15.6" x2="785.9" y2="68.0" stroke="rgb(111,111,111)" stroke-width="1.68"/>
<line x1="789.2" y1="14.4" x2="789.2" y2="67.4" stroke="rgb(106,106,106)" stroke-width="1.68"/>
<line x1="792.6" y1="13.3" x2="792.6" y2="66.7" stroke="rgb(106,106,106)" stroke-width="1.68"/>
<line x1="795.9" y1="12.1" x2="795.9" y2="66.1" stroke="rgb(106,106,106)" stroke-width="1.68"/>
<line x1="799.3" y1="10.9" x2="799.3" y2="65.4" stroke="rgb(111,111,111)" stroke-width="1.68"/>
<line x1="802.6" y1="9.7" x2="802.6" y2="64.8" stroke="rgb(132,132,132)" stroke-width="1.68"/>
<line x1="806.0" y1="8.6" x2="806.0" y2="64.2" stroke="rgb(111,111,111)" stroke-width="1.68"/>
<line x1="809.3" y1="7.4" x2="809.3" y2="63.5" stroke="rgb(111,111,111)" stroke-width="1.68"/>
<line x1="786.4" y1="15.1" x2="786.4" y2="68.2" stroke="rgb(158,158,158)" stroke-width="0.60"/>
<line x1="793.4" y1="12.7" x2="793.4" y2="66.9" stroke="rgb(158,158,158)" stroke-width="0.60"/>
<line x1="797.6" y1="11.2" x2="797.6" y2="66.1" stroke="rgb(75,75,75)" stroke-width="0.87"/>
<line x1="801.8" y1="9.7" x2="801.8" y2="65.3" stroke="rgb(158,158,158)" stroke-width="0.60"/>
<line x1="808.8" y1="7.3" x2="808.8" y2="63.9" stroke="rgb(158,158,158)" stroke-width="0.60"/>
<rect x="786.2" y="30.6" width="2.3" height="1.9" fill="rgb(50,50,50)" opacity="0.75"/>
<rect x="791.8" y="37.0" width="2.1" height="2.2" fill="rgb(85,85,85)" opacity="0.75"/>
<rect x="807.2" y="42.7" width="2.6" height="2.5" fill="rgb(50,50,50)" opacity="0.75"/>
<polygon points="782.5,70.1 812.7,64.4 812.7,116.5 782.5,117.5" fill="rgb(72,72,72)" stroke="#1e1e1e" stroke-width="1.1"/>
<line x1="785.9" y1="71.0" x2="785.9" y2="115.9" stroke="rgb(80,80,80)" stroke-width="1.68"/>
<line x1="789.2" y1="70.4" x2="789.2" y2="115.8" stroke="rgb(80,80,80)" stroke-width="1.68"/>
<line x1="792.6" y1="69.7" x2="792.6" y2="115.7" stroke="rgb(62,62,62)" stroke-width="1.68"/>
<line x1="795.9" y1="69.1" x2="795.9" y2="115.6" stroke="rgb(88,88,88)" stroke-width="1.68"/>
<line x1="799.3" y1="68.4" x2="799.3" y2="115.4" stroke="rgb(80,80,80)" stroke-width="1.68"/>
<line x1="802.6" y1="67.8" x2="802.6" y2="115.3" stroke="rgb(62,62,62)" stroke-width="1.68"/>
<line x1="806.0" y1="67.2" x2="806.0" y2="115.2" stroke="rgb(80,80,80)" stroke-width="1.68"/>
<line x1="809.3" y1="66.5" x2="809.3" y2="115.1" stroke="rgb(80,80,80)" stroke-width="1.68"/>
<line x1="786.4" y1="70.6" x2="786.4" y2="116.2" stroke="rgb(127,127,127)" stroke-width="0.60"/>
<line x1="793.4" y1="69.3" x2="793.4" y2="115.9" stroke="rgb(127,127,127)" stroke-width="0.60"/>
<line x1="797.6" y1="68.5" x2="797.6" y2="115.8" stroke="rgb(25,25,25)" stroke-width="0.87"/>
<line x1="801.8" y1="67.7" x2="801.8" y2="115.7" stroke="rgb(127,127,127)" stroke-width="0.60"/>
<line x1="808.8" y1="66.3" x2="808.8" y2="115.4" stroke="rgb(127,127,127)" stroke-width="0.60"/>
<rect x="788.9" y="97.1" width="2.8" height="1.5" fill="rgb(132,132,132)" opacity="0.75"/>
<rect x="798.0" y="94.0" width="3.2" height="1.1" fill="rgb(132,132,132)" opacity="0.75"/>
<rect x="790.1" y="77.4" width="2.7" height="1.9" fill="rgb(132,132,132)" opacity="0.75"/>
<polygon points="782.5,117.5 812.7,116.5 812.7,167.6 782.5,164.0" fill="rgb(90,90,90)" stroke="#1e1e1e" stroke-width="1.1"/>
<line x1="785.9" y1="118.9" x2="785.9" y2="162.9" stroke="rgb(80,80,80)" stroke-width="1.68"/>
<line x1="789.2" y1="118.8" x2="789.2" y2="163.3" stroke="rgb(106,106,106)" stroke-width="1.68"/>
<line x1="792.6" y1="118.7" x2="792.6" y2="163.7" stroke="rgb(102,102,102)" stroke-width="1.68"/>
<line x1="795.9" y1="118.6" x2="795.9" y2="164.1" stroke="rgb(98,98,98)" stroke-width="1.68"/>
<line x1="799.3" y1="118.4" x2="799.3" y2="164.5" stroke="rgb(102,102,102)" stroke-width="1.68"/>
<line x1="802.6" y1="118.3" x2="802.6" y2="164.9" stroke="rgb(106,106,106)" stroke-width="1.68"/>
<line x1="806.0" y1="118.2" x2="806.0" y2="165.3" stroke="rgb(106,106,106)" stroke-width="1.68"/>
<line x1="809.3" y1="118.1" x2="809.3" y2="165.7" stroke="rgb(98,98,98)" stroke-width="1.68"/>
<line x1="786.4" y1="118.6" x2="786.4" y2="163.3" stroke="rgb(145,145,145)" stroke-width="0.60"/>
<line x1="793.4" y1="118.3" x2="793.4" y2="164.1" stroke="rgb(145,145,145)" stroke-width="0.60"/>
<line x1="797.6" y1="118.2" x2="797.6" y2="164.6" stroke="rgb(25,25,25)" stroke-width="0.87"/>
<line x1="801.8" y1="118.1" x2="801.8" y2="165.1" stroke="rgb(145,145,145)" stroke-width="0.60"/>
<line x1="808.8" y1="117.8" x2="808.8" y2="166.0" stroke="rgb(145,145,145)" stroke-width="0.60"/>
<rect x="802.4" y="154.7" width="3.3" height="2.4" fill="rgb(180,180,180)" opacity="0.75"/>
<rect x="790.4" y="139.4" width="2.2" height="1.7" fill="rgb(180,180,180)" opacity="0.75"/>
<rect x="787.3" y="132.4" width="2.3" height="1.5" fill="rgb(150,150,150)" opacity="0.75"/>
<polygon points="812.7,-71.9 849.6,-90.3 849.6,-8.2 812.7,4.7" fill="rgb(90,90,90)" stroke="#1e1e1e" stroke-width="1.3"/>
<line x1="816.1" y1="-72.0" x2="816.1" y2="2.0" stroke="rgb(80,80,80)" stroke-width="1.68"/>
<line x1="819.4" y1="-73.7" x2="819.4" y2="0.9" stroke="rgb(98,98,98)" stroke-width="1.68"/>
<line x1="822.8" y1="-75.4" x2="822.8" y2="-0.3" stroke="rgb(102,102,102)" stroke-width="1.68"/>
<line x1="826.1" y1="-77.1" x2="826.1" y2="-1.5" stroke="rgb(98,98,98)" stroke-width="1.68"/>
<line x1="829.5" y1="-78.7" x2="829.5" y2="-2.7" stroke="rgb(102,102,102)" stroke-width="1.68"/>
<line x1="832.8" y1="-80.4" x2="832.8" y2="-3.8" stroke="rgb(98,98,98)" stroke-width="1.68"/>
<line x1="836.2" y1="-82.1" x2="836.2" y2="-5.0" stroke="rgb(106,106,106)" stroke-width="1.68"/>
<line x1="839.5" y1="-83.8" x2="839.5" y2="-6.2" stroke="rgb(98,98,98)" stroke-width="1.68"/>
<line x1="842.9" y1="-85.4" x2="842.9" y2="-7.4" stroke="rgb(80,80,80)" stroke-width="1.68"/>
<line x1="846.2" y1="-87.1" x2="846.2" y2="-8.5" stroke="rgb(106,106,106)" stroke-width="1.68"/>
<line x1="817.5" y1="-73.0" x2="817.5" y2="1.8" stroke="rgb(145,145,145)" stroke-width="0.74"/>
<line x1="826.0" y1="-77.3" x2="826.0" y2="-1.1" stroke="rgb(145,145,145)" stroke-width="0.74"/>
<line x1="831.2" y1="-79.9" x2="831.2" y2="-3.0" stroke="rgb(25,25,25)" stroke-width="1.07"/>
<line x1="836.3" y1="-82.5" x2="836.3" y2="-4.8" stroke="rgb(145,145,145)" stroke-width="0.74"/>
<line x1="844.8" y1="-86.7" x2="844.8" y2="-7.7" stroke="rgb(145,145,145)" stroke-width="0.74"/>
<rect x="842.5" y="-65.4" width="3.7" height="1.3" fill="rgb(200,200,200)" opacity="0.75"/>
<rect x="829.1" y="-39.7" width="2.9" height="1.6" fill="rgb(180,180,180)" opacity="0.75"/>
<rect x="819.1" y="-43.6" width="3.2" height="1.7" fill="rgb(180,180,180)" opacity="0.75"/>
<rect x="816.9" y="-44.5" width="2.6" height="2.5" fill="rgb(200,200,200)" opacity="0.75"/>
<polygon points="812.7,4.7 849.6,-8.2 849.6,57.4 812.7,64.4" fill="rgb(50,50,50)" stroke="#1e1e1e" stroke-width="1.3"/>
<line x1="816.1" y1="5.0" x2="816.1" y2="62.3" stroke="rgb(40,40,40)" stroke-width="1.68"/>
<line x1="819.4" y1="3.9" x2="819.4" y2="61.6" stroke="rgb(58,58,58)" stroke-width="1.68"/>
<line x1="822.8" y1="2.7" x2="822.8" y2="61.0" stroke="rgb(40,40,40)" stroke-width="1.68"/>
<line x1="826.1" y1="1.5" x2="826.1" y2="60.3" stroke="rgb(40,40,40)" stroke-width="1.68"/>
<line x1="829.5" y1="0.3" x2="829.5" y2="59.7" stroke="rgb(62,62,62)" stroke-width="1.68"/>
<line x1="832.8" y1="-0.8" x2="832.8" y2="59.1" stroke="rgb(62,62,62)" stroke-width="1.68"/>
<line x1="836.2" y1="-2.0" x2="836.2" y2="58.4" stroke="rgb(40,40,40)" stroke-width="1.68"/>
<line x1="839.5" y1="-3.2" x2="839.5" y2="57.8" stroke="rgb(58,58,58)" stroke-width="1.68"/>
<line x1="842.9" y1="-4.4" x2="842.9" y2="57.2" stroke="rgb(62,62,62)" stroke-width="1.68"/>
<line x1="846.2" y1="-5.5" x2="846.2" y2="56.5" stroke="rgb(58,58,58)" stroke-width="1.68"/>
<line x1="817.5" y1="4.2" x2="817.5" y2="62.3" stroke="rgb(105,105,105)" stroke-width="0.74"/>
<line x1="826.0" y1="1.3" x2="826.0" y2="60.7" stroke="rgb(105,105,105)" stroke-width="0.74"/>
<line x1="831.2" y1="-0.6" x2="831.2" y2="59.7" stroke="rgb(25,25,25)" stroke-width="1.07"/>
<line x1="836.3" y1="-2.4" x2="836.3" y2="58.7" stroke="rgb(105,105,105)" stroke-width="0.74"/>
<line x1="844.8" y1="-5.3" x2="844.8" y2="57.1" stroke="rgb(105,105,105)" stroke-width="0.74"/>
<rect x="840.6" y="42.7" width="3.7" height="1.4" fill="rgb(160,160,160)" opacity="0.75"/>
<rect x="820.8" y="50.3" width="3.0" height="1.5" fill="rgb(160,160,160)" opacity="0.75"/>
<rect x="824.6" y="44.2" width="2.9" height="1.1" fill="rgb(110,110,110)" opacity="0.75"/>
<rect x="844.1" y="32.2" width="2.2" height="2.4" fill="rgb(140,140,140)" opacity="0.75"/>
<polygon points="812.7,64.4 849.6,57.4 849.6,115.2 812.7,116.5" fill="rgb(150,150,150)" stroke="#1e1e1e" stroke-width="1.3"/>
<line x1="816.1" y1="65.3" x2="816.1" y2="114.9" stroke="rgb(136,136,136)" stroke-width="1.68"/>
<line x1="819.4" y1="64.6" x2="819.4" y2="114.7" stroke="rgb(159,159,159)" stroke-width="1.68"/>
<line x1="822.8" y1="64.0" x2="822.8" y2="114.6" stroke="rgb(136,136,136)" stroke-width="1.68"/>
<line x1="826.1" y1="63.3" x2="826.1" y2="114.5" stroke="rgb(162,162,162)" stroke-width="1.68"/>
<line x1="829.5" y1="62.7" x2="829.5" y2="114.4" stroke="rgb(136,136,136)" stroke-width="1.68"/>
<line x1="832.8" y1="62.1" x2="832.8" y2="114.3" stroke="rgb(159,159,159)" stroke-width="1.68"/>
<line x1="836.2" y1="61.4" x2="836.2" y2="114.1" stroke="rgb(162,162,162)" stroke-width="1.68"/>
<line x1="839.5" y1="60.8" x2="839.5" y2="114.0" stroke="rgb(159,159,159)" stroke-width="1.68"/>
<line x1="842.9" y1="60.2" x2="842.9" y2="113.9" stroke="rgb(141,141,141)" stroke-width="1.68"/>
<line x1="846.2" y1="59.5" x2="846.2" y2="113.8" stroke="rgb(136,136,136)" stroke-width="1.68"/>
<line x1="817.5" y1="64.7" x2="817.5" y2="115.1" stroke="rgb(188,188,188)" stroke-width="0.74"/>
<line x1="826.0" y1="63.1" x2="826.0" y2="114.8" stroke="rgb(188,188,188)" stroke-width="0.74"/>
<line x1="831.2" y1="62.1" x2="831.2" y2="114.6" stroke="rgb(105,105,105)" stroke-width="1.07"/>
<line x1="836.3" y1="61.1" x2="836.3" y2="114.4" stroke="rgb(188,188,188)" stroke-width="0.74"/>
<line x1="844.8" y1="59.5" x2="844.8" y2="114.1" stroke="rgb(188,188,188)" stroke-width="0.74"/>
<rect x="831.9" y="78.2" width="4.0" height="1.4" fill="rgb(115,115,115)" opacity="0.75"/>
<rect x="821.7" y="105.6" width="2.6" height="2.2" fill="rgb(80,80,80)" opacity="0.75"/>
<rect x="824.9" y="89.1" width="2.6" height="2.3" fill="rgb(115,115,115)" opacity="0.75"/>
<rect x="845.7" y="68.2" width="3.5" height="1.9" fill="rgb(115,115,115)" opacity="0.75"/>
<polygon points="812.7,116.5 849.6,115.2 849.6,172.1 812.7,167.6" fill="rgb(66,66,66)" stroke="#1e1e1e" stroke-width="1.3"/>
<line x1="816.1" y1="117.9" x2="816.1" y2="166.5" stroke="rgb(74,74,74)" stroke-width="1.68"/>
<line x1="819.4" y1="117.7" x2="819.4" y2="166.9" stroke="rgb(82,82,82)" stroke-width="1.68"/>
<line x1="822.8" y1="117.6" x2="822.8" y2="167.4" stroke="rgb(74,74,74)" stroke-width="1.68"/>
<line x1="826.1" y1="117.5" x2="826.1" y2="167.8" stroke="rgb(82,82,82)" stroke-width="1.68"/>
<line x1="829.5" y1="117.4" x2="829.5" y2="168.2" stroke="rgb(56,56,56)" stroke-width="1.68"/>
<line x1="832.8" y1="117.3" x2="832.8" y2="168.6" stroke="rgb(82,82,82)" stroke-width="1.68"/>
<line x1="836.2" y1="117.1" x2="836.2" y2="169.0" stroke="rgb(82,82,82)" stroke-width="1.68"/>
<line x1="839.5" y1="117.0" x2="839.5" y2="169.4" stroke="rgb(82,82,82)" stroke-width="1.68"/>
<line x1="842.9" y1="116.9" x2="842.9" y2="169.8" stroke="rgb(78,78,78)" stroke-width="1.68"/>
<line x1="846.2" y1="116.8" x2="846.2" y2="170.2" stroke="rgb(74,74,74)" stroke-width="1.68"/>
<line x1="817.5" y1="117.5" x2="817.5" y2="167.0" stroke="rgb(121,121,121)" stroke-width="0.74"/>
<line x1="826.0" y1="117.2" x2="826.0" y2="168.0" stroke="rgb(121,121,121)" stroke-width="0.74"/>
<line x1="831.2" y1="117.0" x2="831.2" y2="168.7" stroke="rgb(25,25,25)" stroke-width="1.07"/>
<line x1="836.3" y1="116.8" x2="836.3" y2="169.3" stroke="rgb(121,121,121)" stroke-width="0.74"/>
<line x1="844.8" y1="116.5" x2="844.8" y2="170.3" stroke="rgb(121,121,121)" stroke-width="0.74"/>
<rect x="845.4" y="137.3" width="3.5" height="1.2" fill="rgb(176,176,176)" opacity="0.75"/>
<rect x="845.6" y="162.4" width="2.0" height="2.0" fill="rgb(126,126,126)" opacity="0.75"/>
<rect x="842.4" y="140.6" width="2.2" height="2.3" fill="rgb(126,126,126)" opacity="0.75"/>
<rect x="842.1" y="150.0" width="3.3" height="2.1" fill="rgb(156,156,156)" opacity="0.75"/>
<polygon points="849.6,-8.2 893.3,-23.5 893.3,49.1 849.6,57.4" fill="rgb(58,58,58)" stroke="#1e1e1e" stroke-width="1.6"/>
<line x1="853.0" y1="-7.9" x2="853.0" y2="55.2" stroke="rgb(48,48,48)" stroke-width="1.68"/>
<line x1="856.3" y1="-9.1" x2="856.3" y2="54.6" stroke="rgb(74,74,74)" stroke-width="1.68"/>
<line x1="859.7" y1="-10.2" x2="859.7" y2="54.0" stroke="rgb(66,66,66)" stroke-width="1.68"/>
<line x1="863.0" y1="-11.4" x2="863.0" y2="53.3" stroke="rgb(66,66,66)" stroke-width="1.68"/>
<line x1="866.4" y1="-12.6" x2="866.4" y2="52.7" stroke="rgb(70,70,70)" stroke-width="1.68"/>
<line x1="869.8" y1="-13.8" x2="869.8" y2="52.1" stroke="rgb(74,74,74)" stroke-width="1.68"/>
<line x1="873.1" y1="-14.9" x2="873.1" y2="51.4" stroke="rgb(48,48,48)" stroke-width="1.68"/>
<line x1="876.5" y1="-16.1" x2="876.5" y2="50.8" stroke="rgb(70,70,70)" stroke-width="1.68"/>
<line x1="879.9" y1="-17.3" x2="879.9" y2="50.1" stroke="rgb(70,70,70)" stroke-width="1.68"/>
<line x1="883.2" y1="-18.5" x2="883.2" y2="49.5" stroke="rgb(70,70,70)" stroke-width="1.68"/>
<line x1="886.6" y1="-19.7" x2="886.6" y2="48.9" stroke="rgb(70,70,70)" stroke-width="1.68"/>
<line x1="889.9" y1="-20.8" x2="889.9" y2="48.2" stroke="rgb(66,66,66)" stroke-width="1.68"/>
<line x1="855.3" y1="-9.0" x2="855.3" y2="55.1" stroke="rgb(113,113,113)" stroke-width="0.87"/>
<line x1="865.3" y1="-12.5" x2="865.3" y2="53.2" stroke="rgb(113,113,113)" stroke-width="0.87"/>
<line x1="871.5" y1="-14.7" x2="871.5" y2="52.0" stroke="rgb(25,25,25)" stroke-width="1.26"/>
<line x1="877.6" y1="-16.8" x2="877.6" y2="50.9" stroke="rgb(113,113,113)" stroke-width="0.87"/>
<line x1="887.6" y1="-20.3" x2="887.6" y2="49.0" stroke="rgb(113,113,113)" stroke-width="0.87"/>
<rect x="855.2" y="40.9" width="3.0" height="1.0" fill="rgb(118,118,118)" opacity="0.75"/>
<rect x="867.3" y="18.6" width="3.9" height="1.4" fill="rgb(168,168,168)" opacity="0.75"/>
<rect x="881.1" y="-4.1" width="2.4" height="1.9" fill="rgb(118,118,118)" opacity="0.75"/>
<rect x="867.7" y="10.1" width="2.7" height="1.9" fill="rgb(168,168,168)" opacity="0.75"/>
<polygon points="849.6,57.4 893.3,49.1 893.3,113.6 849.6,115.2" fill="rgb(186,186,186)" stroke="#1e1e1e" stroke-width="1.6"/>
<line x1="853.0" y1="58.2" x2="853.0" y2="113.6" stroke="rgb(177,177,177)" stroke-width="1.68"/>
<line x1="856.3" y1="57.6" x2="856.3" y2="113.4" stroke="rgb(198,198,198)" stroke-width="1.68"/>
<line x1="859.7" y1="57.0" x2="859.7" y2="113.3" stroke="rgb(195,195,195)" stroke-width="1.68"/>
<line x1="863.0" y1="56.3" x2="863.0" y2="113.2" stroke="rgb(198,198,198)" stroke-width="1.68"/>
<line x1="866.4" y1="55.7" x2="866.4" y2="113.1" stroke="rgb(177,177,177)" stroke-width="1.68"/>
<line x1="869.8" y1="55.1" x2="869.8" y2="113.0" stroke="rgb(195,195,195)" stroke-width="1.68"/>
<line x1="873.1" y1="54.4" x2="873.1" y2="112.9" stroke="rgb(177,177,177)" stroke-width="1.68"/>
<line x1="876.5" y1="53.8" x2="876.5" y2="112.7" stroke="rgb(172,172,172)" stroke-width="1.68"/>
<line x1="879.9" y1="53.1" x2="879.9" y2="112.6" stroke="rgb(198,198,198)" stroke-width="1.68"/>
<line x1="883.2" y1="52.5" x2="883.2" y2="112.5" stroke="rgb(177,177,177)" stroke-width="1.68"/>
<line x1="886.6" y1="51.9" x2="886.6" y2="112.4" stroke="rgb(172,172,172)" stroke-width="1.68"/>
<line x1="889.9" y1="51.2" x2="889.9" y2="112.3" stroke="rgb(177,177,177)" stroke-width="1.68"/>
<line x1="855.3" y1="57.5" x2="855.3" y2="113.8" stroke="rgb(224,224,224)" stroke-width="0.87"/>
<line x1="865.3" y1="55.6" x2="865.3" y2="113.4" stroke="rgb(224,224,224)" stroke-width="0.87"/>
<line x1="871.5" y1="54.4" x2="871.5" y2="113.2" stroke="rgb(141,141,141)" stroke-width="1.26"/>
<line x1="877.6" y1="53.3" x2="877.6" y2="113.0" stroke="rgb(224,224,224)" stroke-width="0.87"/>
<line x1="887.6" y1="51.4" x2="887.6" y2="112.6" stroke="rgb(224,224,224)" stroke-width="0.87"/>
<rect x="856.9" y="66.6" width="3.0" height="1.2" fill="rgb(116,116,116)" opacity="0.75"/>
<rect x="883.2" y="85.1" width="2.1" height="1.9" fill="rgb(116,116,116)" opacity="0.75"/>
<rect x="862.5" y="74.9" width="4.3" height="2.2" fill="rgb(131,131,131)" opacity="0.75"/>
<rect x="871.6" y="85.3" width="3.5" height="2.2" fill="rgb(116,116,116)" opacity="0.75"/>
<polygon points="849.6,115.2 893.3,113.6 893.3,177.3 849.6,172.1" fill="rgb(122,122,122)" stroke="#1e1e1e" stroke-width="1.6"/>
<line x1="853.0" y1="116.6" x2="853.0" y2="171.0" stroke="rgb(134,134,134)" stroke-width="1.68"/>
<line x1="856.3" y1="116.4" x2="856.3" y2="171.4" stroke="rgb(131,131,131)" stroke-width="1.68"/>
<line x1="859.7" y1="116.3" x2="859.7" y2="171.8" stroke="rgb(108,108,108)" stroke-width="1.68"/>
<line x1="863.0" y1="116.2" x2="863.0" y2="172.2" stroke="rgb(131,131,131)" stroke-width="1.68"/>
<line x1="866.4" y1="116.1" x2="866.4" y2="172.6" stroke="rgb(113,113,113)" stroke-width="1.68"/>
<line x1="869.8" y1="116.0" x2="869.8" y2="173.0" stroke="rgb(113,113,113)" stroke-width="1.68"/>
<line x1="873.1" y1="115.9" x2="873.1" y2="173.4" stroke="rgb(113,113,113)" stroke-width="1.68"/>
<line x1="876.5" y1="115.7" x2="876.5" y2="173.8" stroke="rgb(134,134,134)" stroke-width="1.68"/>
<line x1="879.9" y1="115.6" x2="879.9" y2="174.2" stroke="rgb(134,134,134)" stroke-width="1.68"/>
<line x1="883.2" y1="115.5" x2="883.2" y2="174.6" stroke="rgb(134,134,134)" stroke-width="1.68"/>
<line x1="886.6" y1="115.4" x2="886.6" y2="175.0" stroke="rgb(108,108,108)" stroke-width="1.68"/>
<line x1="889.9" y1="115.3" x2="889.9" y2="175.4" stroke="rgb(134,134,134)" stroke-width="1.68"/>
<line x1="855.3" y1="116.2" x2="855.3" y2="171.6" stroke="rgb(160,160,160)" stroke-width="0.87"/>
<line x1="865.3" y1="115.8" x2="865.3" y2="172.8" stroke="rgb(160,160,160)" stroke-width="0.87"/>
<line x1="871.5" y1="115.6" x2="871.5" y2="173.5" stroke="rgb(77,77,77)" stroke-width="1.26"/>
<line x1="877.6" y1="115.4" x2="877.6" y2="174.2" stroke="rgb(160,160,160)" stroke-width="0.87"/>
<line x1="887.6" y1="115.0" x2="887.6" y2="175.4" stroke="rgb(160,160,160)" stroke-width="0.87"/>
<rect x="885.8" y="135.9" width="3.8" height="2.0" fill="rgb(87,87,87)" opacity="0.75"/>
<rect x="856.7" y="129.6" width="3.9" height="2.1" fill="rgb(67,67,67)" opacity="0.75"/>
<rect x="875.7" y="129.1" width="2.2" height="1.4" fill="rgb(67,67,67)" opacity="0.75"/>
<rect x="877.5" y="153.0" width="3.4" height="2.1" fill="rgb(52,52,52)" opacity="0.75"/>
<polygon points="893.3,-23.5 948.7,-42.9 948.7,38.6 893.3,49.1" fill="rgb(146,146,146)" stroke="#1e1e1e" stroke-width="2.0"/>
<line x1="896.6" y1="-23.1" x2="896.6" y2="47.0" stroke="rgb(155,155,155)" stroke-width="1.63"/>
<line x1="899.8" y1="-24.3" x2="899.8" y2="46.3" stroke="rgb(158,158,158)" stroke-width="1.63"/>
<line x1="903.1" y1="-25.4" x2="903.1" y2="45.7" stroke="rgb(158,158,158)" stroke-width="1.63"/>
<line x1="906.3" y1="-26.6" x2="906.3" y2="45.1" stroke="rgb(158,158,158)" stroke-width="1.63"/>
<line x1="909.6" y1="-27.7" x2="909.6" y2="44.5" stroke="rgb(132,132,132)" stroke-width="1.63"/>
<line x1="912.9" y1="-28.8" x2="912.9" y2="43.9" stroke="rgb(137,137,137)" stroke-width="1.63"/>
<line x1="916.1" y1="-30.0" x2="916.1" y2="43.2" stroke="rgb(155,155,155)" stroke-width="1.63"/>
<line x1="919.4" y1="-31.1" x2="919.4" y2="42.6" stroke="rgb(132,132,132)" stroke-width="1.63"/>
<line x1="922.6" y1="-32.3" x2="922.6" y2="42.0" stroke="rgb(158,158,158)" stroke-width="1.63"/>
<line x1="925.9" y1="-33.4" x2="925.9" y2="41.4" stroke="rgb(132,132,132)" stroke-width="1.63"/>
<line x1="929.1" y1="-34.6" x2="929.1" y2="40.8" stroke="rgb(155,155,155)" stroke-width="1.63"/>
<line x1="932.4" y1="-35.7" x2="932.4" y2="40.2" stroke="rgb(158,158,158)" stroke-width="1.63"/>
<line x1="935.7" y1="-36.8" x2="935.7" y2="39.5" stroke="rgb(132,132,132)" stroke-width="1.63"/>
<line x1="938.9" y1="-38.0" x2="938.9" y2="38.9" stroke="rgb(158,158,158)" stroke-width="1.63"/>
<line x1="942.2" y1="-39.1" x2="942.2" y2="38.3" stroke="rgb(155,155,155)" stroke-width="1.63"/>
<line x1="945.4" y1="-40.3" x2="945.4" y2="37.7" stroke="rgb(158,158,158)" stroke-width="1.63"/>
<line x1="900.5" y1="-24.8" x2="900.5" y2="46.5" stroke="rgb(184,184,184)" stroke-width="1.11"/>
<line x1="913.2" y1="-29.3" x2="913.2" y2="44.1" stroke="rgb(184,184,184)" stroke-width="1.11"/>
<line x1="921.0" y1="-32.0" x2="921.0" y2="42.6" stroke="rgb(101,101,101)" stroke-width="1.60"/>
<line x1="928.8" y1="-34.7" x2="928.8" y2="41.1" stroke="rgb(184,184,184)" stroke-width="1.11"/>
<line x1="941.5" y1="-39.2" x2="941.5" y2="38.7" stroke="rgb(184,184,184)" stroke-width="1.11"/>
<rect x="908.1" y="32.2" width="2.3" height="1.1" fill="rgb(111,111,111)" opacity="0.75"/>
<rect x="932.0" y="-10.8" width="2.6" height="2.3" fill="rgb(91,91,91)" opacity="0.75"/>
<rect x="921.4" y="26.1" width="3.5" height="1.8" fill="rgb(76,76,76)" opacity="0.75"/>
<rect x="937.7" y="-5.1" width="2.0" height="1.8" fill="rgb(111,111,111)" opacity="0.75"/>
<rect x="918.8" y="-4.7" width="3.7" height="1.6" fill="rgb(111,111,111)" opacity="0.75"/>
<rect x="904.2" y="1.1" width="5.1" height="2.3" fill="rgb(91,91,91)" opacity="0.75"/>
<polygon points="893.3,49.1 948.7,38.6 948.7,111.7 893.3,113.6" fill="rgb(50,50,50)" stroke="#1e1e1e" stroke-width="2.0"/>
<line x1="896.6" y1="50.0" x2="896.6" y2="112.0" stroke="rgb(40,40,40)" stroke-width="1.63"/>
<line x1="899.8" y1="49.3" x2="899.8" y2="111.9" stroke="rgb(58,58,58)" stroke-width="1.63"/>
<line x1="903.1" y1="48.7" x2="903.1" y2="111.8" stroke="rgb(40,40,40)" stroke-width="1.63"/>
<line x1="906.3" y1="48.1" x2="906.3" y2="111.7" stroke="rgb(62,62,62)" stroke-width="1.63"/>
<line x1="909.6" y1="47.5" x2="909.6" y2="111.6" stroke="rgb(62,62,62)" stroke-width="1.63"/>
<line x1="912.9" y1="46.9" x2="912.9" y2="111.5" stroke="rgb(62,62,62)" stroke-width="1.63"/>
<line x1="916.1" y1="46.2" x2="916.1" y2="111.4" stroke="rgb(40,40,40)" stroke-width="1.63"/>
<line x1="919.4" y1="45.6" x2="919.4" y2="111.2" stroke="rgb(66,66,66)" stroke-width="1.63"/>
<line x1="922.6" y1="45.0" x2="922.6" y2="111.1" stroke="rgb(66,66,66)" stroke-width="1.63"/>
<line x1="925.9" y1="44.4" x2="925.9" y2="111.0" stroke="rgb(40,40,40)" stroke-width="1.63"/>
<line x1="929.1" y1="43.8" x2="929.1" y2="110.9" stroke="rgb(62,62,62)" stroke-width="1.63"/>
<line x1="932.4" y1="43.2" x2="932.4" y2="110.8" stroke="rgb(66,66,66)" stroke-width="1.63"/>
<line x1="935.7" y1="42.5" x2="935.7" y2="110.7" stroke="rgb(62,62,62)" stroke-width="1.63"/>
<line x1="938.9" y1="41.9" x2="938.9" y2="110.6" stroke="rgb(40,40,40)" stroke-width="1.63"/>
<line x1="942.2" y1="41.3" x2="942.2" y2="110.4" stroke="rgb(62,62,62)" stroke-width="1.63"/>
<line x1="945.4" y1="40.7" x2="945.4" y2="110.3" stroke="rgb(40,40,40)" stroke-width="1.63"/>
<line x1="900.5" y1="48.9" x2="900.5" y2="112.2" stroke="rgb(105,105,105)" stroke-width="1.11"/>
<line x1="913.2" y1="46.5" x2="913.2" y2="111.8" stroke="rgb(105,105,105)" stroke-width="1.11"/>
<line x1="921.0" y1="45.0" x2="921.0" y2="111.5" stroke="rgb(25,25,25)" stroke-width="1.60"/>
<line x1="928.8" y1="43.5" x2="928.8" y2="111.2" stroke="rgb(105,105,105)" stroke-width="1.11"/>
<line x1="941.5" y1="41.1" x2="941.5" y2="110.8" stroke="rgb(105,105,105)" stroke-width="1.11"/>
<rect x="901.1" y="87.9" width="5.9" height="1.4" fill="rgb(160,160,160)" opacity="0.75"/>
<rect x="910.6" y="79.9" width="5.2" height="2.3" fill="rgb(110,110,110)" opacity="0.75"/>
<rect x="917.8" y="56.1" width="3.7" height="2.4" fill="rgb(160,160,160)" opacity="0.75"/>
<rect x="923.4" y="63.6" width="2.2" height="2.2" fill="rgb(110,110,110)" opacity="0.75"/>
<rect x="918.8" y="90.6" width="5.6" height="1.8" fill="rgb(160,160,160)" opacity="0.75"/>
<rect x="939.3" y="78.7" width="4.0" height="1.5" fill="rgb(110,110,110)" opacity="0.75"/>
<polygon points="893.3,113.6 948.7,111.7 948.7,184.0 893.3,177.3" fill="rgb(96,96,96)" stroke="#1e1e1e" stroke-width="2.0"/>
<line x1="896.6" y1="115.0" x2="896.6" y2="176.2" stroke="rgb(108,108,108)" stroke-width="1.63"/>
<line x1="899.8" y1="114.9" x2="899.8" y2="176.6" stroke="rgb(108,108,108)" stroke-width="1.63"/>
<line x1="903.1" y1="114.8" x2="903.1" y2="177.0" stroke="rgb(108,108,108)" stroke-width="1.63"/>
<line x1="906.3" y1="114.7" x2="906.3" y2="177.4" stroke="rgb(112,112,112)" stroke-width="1.63"/>
<line x1="909.6" y1="114.6" x2="909.6" y2="177.8" stroke="rgb(104,104,104)" stroke-width="1.63"/>
<line x1="912.9" y1="114.5" x2="912.9" y2="178.2" stroke="rgb(108,108,108)" stroke-width="1.63"/>
<line x1="916.1" y1="114.4" x2="916.1" y2="178.6" stroke="rgb(112,112,112)" stroke-width="1.63"/>
<line x1="919.4" y1="114.2" x2="919.4" y2="178.9" stroke="rgb(112,112,112)" stroke-width="1.63"/>
<line x1="922.6" y1="114.1" x2="922.6" y2="179.3" stroke="rgb(86,86,86)" stroke-width="1.63"/>
<line x1="925.9" y1="114.0" x2="925.9" y2="179.7" stroke="rgb(104,104,104)" stroke-width="1.63"/>
<line x1="929.1" y1="113.9" x2="929.1" y2="180.1" stroke="rgb(104,104,104)" stroke-width="1.63"/>
<line x1="932.4" y1="113.8" x2="932.4" y2="180.5" stroke="rgb(86,86,86)" stroke-width="1.63"/>
<line x1="935.7" y1="113.7" x2="935.7" y2="180.9" stroke="rgb(104,104,104)" stroke-width="1.63"/>
<line x1="938.9" y1="113.6" x2="938.9" y2="181.3" stroke="rgb(112,112,112)" stroke-width="1.63"/>
<line x1="942.2" y1="113.4" x2="942.2" y2="181.7" stroke="rgb(104,104,104)" stroke-width="1.63"/>
<line x1="945.4" y1="113.3" x2="945.4" y2="182.1" stroke="rgb(112,112,112)" stroke-width="1.63"/>
<line x1="900.5" y1="114.6" x2="900.5" y2="177.0" stroke="rgb(151,151,151)" stroke-width="1.11"/>
<line x1="913.2" y1="114.2" x2="913.2" y2="178.5" stroke="rgb(151,151,151)" stroke-width="1.11"/>
<line x1="921.0" y1="113.9" x2="921.0" y2="179.4" stroke="rgb(25,25,25)" stroke-width="1.60"/>
<line x1="928.8" y1="113.6" x2="928.8" y2="180.4" stroke="rgb(151,151,151)" stroke-width="1.11"/>
<line x1="941.5" y1="113.2" x2="941.5" y2="181.9" stroke="rgb(151,151,151)" stroke-width="1.11"/>
<rect x="939.0" y="172.0" width="3.8" height="1.9" fill="rgb(186,186,186)" opacity="0.75"/>
<rect x="909.7" y="131.1" width="2.4" height="1.4" fill="rgb(206,206,206)" opacity="0.75"/>
<rect x="910.3" y="149.4" width="5.1" height="1.7" fill="rgb(156,156,156)" opacity="0.75"/>
<rect x="917.2" y="147.6" width="3.1" height="2.2" fill="rgb(186,186,186)" opacity="0.75"/>
<rect x="920.9" y="150.2" width="2.5" height="1.8" fill="rgb(186,186,186)" opacity="0.75"/>
<rect x="926.7" y="164.4" width="2.4" height="2.4" fill="rgb(156,156,156)" opacity="0.75"/>
<polygon points="948.7,-42.9 1015.9,-66.4 1015.9,25.8 948.7,38.6" fill="rgb(150,150,150)" stroke="#1e1e1e" stroke-width="2.4"/>
<line x1="952.1" y1="-42.6" x2="952.1" y2="36.4" stroke="rgb(162,162,162)" stroke-width="1.68"/>
<line x1="955.4" y1="-43.7" x2="955.4" y2="35.8" stroke="rgb(162,162,162)" stroke-width="1.68"/>
<line x1="958.8" y1="-44.9" x2="958.8" y2="35.1" stroke="rgb(162,162,162)" stroke-width="1.68"/>
<line x1="962.1" y1="-46.1" x2="962.1" y2="34.5" stroke="rgb(162,162,162)" stroke-width="1.68"/>
<line x1="965.5" y1="-47.3" x2="965.5" y2="33.9" stroke="rgb(159,159,159)" stroke-width="1.68"/>
<line x1="968.9" y1="-48.5" x2="968.9" y2="33.2" stroke="rgb(136,136,136)" stroke-width="1.68"/>
<line x1="972.2" y1="-49.6" x2="972.2" y2="32.6" stroke="rgb(141,141,141)" stroke-width="1.68"/>
<line x1="975.6" y1="-50.8" x2="975.6" y2="31.9" stroke="rgb(136,136,136)" stroke-width="1.68"/>
<line x1="978.9" y1="-52.0" x2="978.9" y2="31.3" stroke="rgb(162,162,162)" stroke-width="1.68"/>
<line x1="982.3" y1="-53.2" x2="982.3" y2="30.7" stroke="rgb(162,162,162)" stroke-width="1.68"/>
<line x1="985.7" y1="-54.3" x2="985.7" y2="30.0" stroke="rgb(162,162,162)" stroke-width="1.68"/>
<line x1="989.0" y1="-55.5" x2="989.0" y2="29.4" stroke="rgb(136,136,136)" stroke-width="1.68"/>
<line x1="992.4" y1="-56.7" x2="992.4" y2="28.8" stroke="rgb(136,136,136)" stroke-width="1.68"/>
<line x1="995.7" y1="-57.9" x2="995.7" y2="28.1" stroke="rgb(162,162,162)" stroke-width="1.68"/>
<line x1="999.1" y1="-59.0" x2="999.1" y2="27.5" stroke="rgb(162,162,162)" stroke-width="1.68"/>
<line x1="1002.5" y1="-60.2" x2="1002.5" y2="26.8" stroke="rgb(162,162,162)" stroke-width="1.68"/>
<line x1="1005.8" y1="-61.4" x2="1005.8" y2="26.2" stroke="rgb(141,141,141)" stroke-width="1.68"/>
<line x1="1009.2" y1="-62.6" x2="1009.2" y2="25.6" stroke="rgb(136,136,136)" stroke-width="1.68"/>
<line x1="1012.5" y1="-63.7" x2="1012.5" y2="24.9" stroke="rgb(141,141,141)" stroke-width="1.68"/>
<line x1="957.4" y1="-44.8" x2="957.4" y2="35.7" stroke="rgb(188,188,188)" stroke-width="1.34"/>
<line x1="972.9" y1="-50.2" x2="972.9" y2="32.8" stroke="rgb(188,188,188)" stroke-width="1.34"/>
<line x1="982.3" y1="-53.5" x2="982.3" y2="31.0" stroke="rgb(105,105,105)" stroke-width="1.94"/>
<line x1="991.7" y1="-56.7" x2="991.7" y2="29.2" stroke="rgb(188,188,188)" stroke-width="1.34"/>
<line x1="1007.2" y1="-62.2" x2="1007.2" y2="26.2" stroke="rgb(188,188,188)" stroke-width="1.34"/>
<rect x="963.7" y="-4.9" width="2.6" height="2.3" fill="rgb(80,80,80)" opacity="0.75"/>
<rect x="993.1" y="7.3" width="2.5" height="2.2" fill="rgb(95,95,95)" opacity="0.75"/>
<rect x="955.5" y="-25.6" width="7.0" height="2.0" fill="rgb(80,80,80)" opacity="0.75"/>
<rect x="971.8" y="-30.6" width="4.9" height="1.7" fill="rgb(95,95,95)" opacity="0.75"/>
<rect x="996.5" y="-40.1" width="4.9" height="1.9" fill="rgb(95,95,95)" opacity="0.75"/>
<rect x="976.3" y="-26.2" width="2.0" height="1.9" fill="rgb(80,80,80)" opacity="0.75"/>
<rect x="1009.0" y="-32.6" width="5.5" height="2.4" fill="rgb(95,95,95)" opacity="0.75"/>
<polygon points="948.7,38.6 1015.9,25.8 1015.9,109.4 948.7,111.7" fill="rgb(150,150,150)" stroke="#1e1e1e" stroke-width="2.4"/>
<line x1="952.1" y1="39.4" x2="952.1" y2="110.1" stroke="rgb(162,162,162)" stroke-width="1.68"/>
<line x1="955.4" y1="38.8" x2="955.4" y2="110.0" stroke="rgb(141,141,141)" stroke-width="1.68"/>
<line x1="958.8" y1="38.1" x2="958.8" y2="109.9" stroke="rgb(141,141,141)" stroke-width="1.68"/>
<line x1="962.1" y1="37.5" x2="962.1" y2="109.7" stroke="rgb(136,136,136)" stroke-width="1.68"/>
<line x1="965.5" y1="36.9" x2="965.5" y2="109.6" stroke="rgb(162,162,162)" stroke-width="1.68"/>
<line x1="968.9" y1="36.2" x2="968.9" y2="109.5" stroke="rgb(159,159,159)" stroke-width="1.68"/>
<line x1="972.2" y1="35.6" x2="972.2" y2="109.4" stroke="rgb(136,136,136)" stroke-width="1.68"/>
<line x1="975.6" y1="34.9" x2="975.6" y2="109.3" stroke="rgb(136,136,136)" stroke-width="1.68"/>
<line x1="978.9" y1="34.3" x2="978.9" y2="109.2" stroke="rgb(141,141,141)" stroke-width="1.68"/>
<line x1="982.3" y1="33.7" x2="982.3" y2="109.0" stroke="rgb(162,162,162)" stroke-width="1.68"/>
<line x1="985.7" y1="33.0" x2="985.7" y2="108.9" stroke="rgb(162,162,162)" stroke-width="1.68"/>
<line x1="989.0" y1="32.4" x2="989.0" y2="108.8" stroke="rgb(136,136,136)" stroke-width="1.68"/>
<line x1="992.4" y1="31.8" x2="992.4" y2="108.7" stroke="rgb(159,159,159)" stroke-width="1.68"/>
<line x1="995.7" y1="31.1" x2="995.7" y2="108.6" stroke="rgb(141,141,141)" stroke-width="1.68"/>
<line x1="999.1" y1="30.5" x2="999.1" y2="108.4" stroke="rgb(162,162,162)" stroke-width="1.68"/>
<line x1="1002.5" y1="29.8" x2="1002.5" y2="108.3" stroke="rgb(159,159,159)" stroke-width="1.68"/>
<line x1="1005.8" y1="29.2" x2="1005.8" y2="108.2" stroke="rgb(141,141,141)" stroke-width="1.68"/>
<line x1="1009.2" y1="28.6" x2="1009.2" y2="108.1" stroke="rgb(162,162,162)" stroke-width="1.68"/>
<line x1="1012.5" y1="27.9" x2="1012.5" y2="108.0" stroke="rgb(136,136,136)" stroke-width="1.68"/>
<line x1="957.4" y1="38.1" x2="957.4" y2="110.2" stroke="rgb(188,188,188)" stroke-width="1.34"/>
<line x1="972.9" y1="35.2" x2="972.9" y2="109.7" stroke="rgb(188,188,188)" stroke-width="1.34"/>
<line x1="982.3" y1="33.4" x2="982.3" y2="109.3" stroke="rgb(105,105,105)" stroke-width="1.94"/>
<line x1="991.7" y1="31.6" x2="991.7" y2="109.0" stroke="rgb(188,188,188)" stroke-width="1.34"/>
<line x1="1007.2" y1="28.6" x2="1007.2" y2="108.5" stroke="rgb(188,188,188)" stroke-width="1.34"/>
<rect x="992.8" y="82.4" width="5.7" height="1.3" fill="rgb(95,95,95)" opacity="0.75"/>
<rect x="998.3" y="83.1" width="2.4" height="1.8" fill="rgb(80,80,80)" opacity="0.75"/>
<rect x="966.2" y="87.3" width="3.3" height="1.4" fill="rgb(115,115,115)" opacity="0.75"/>
<rect x="996.3" y="58.2" width="4.7" height="1.3" fill="rgb(80,80,80)" opacity="0.75"/>
<rect x="967.4" y="68.6" width="2.3" height="2.0" fill="rgb(80,80,80)" opacity="0.75"/>
<rect x="1005.0" y="43.3" width="7.3" height="1.2" fill="rgb(115,115,115)" opacity="0.75"/>
<rect x="958.2" y="51.1" width="4.5" height="2.1" fill="rgb(95,95,95)" opacity="0.75"/>
<polygon points="948.7,111.7 1015.9,109.4 1015.9,192.0 948.7,184.0" fill="rgb(86,86,86)" stroke="#1e1e1e" stroke-width="2.4"/>
<line x1="952.1" y1="113.1" x2="952.1" y2="182.9" stroke="rgb(98,98,98)" stroke-width="1.68"/>
<line x1="955.4" y1="113.0" x2="955.4" y2="183.3" stroke="rgb(76,76,76)" stroke-width="1.68"/>
<line x1="958.8" y1="112.9" x2="958.8" y2="183.7" stroke="rgb(76,76,76)" stroke-width="1.68"/>
<line x1="962.1" y1="112.7" x2="962.1" y2="184.1" stroke="rgb(94,94,94)" stroke-width="1.68"/>
<line x1="965.5" y1="112.6" x2="965.5" y2="184.5" stroke="rgb(98,98,98)" stroke-width="1.68"/>
<line x1="968.9" y1="112.5" x2="968.9" y2="184.9" stroke="rgb(94,94,94)" stroke-width="1.68"/>
<line x1="972.2" y1="112.4" x2="972.2" y2="185.3" stroke="rgb(94,94,94)" stroke-width="1.68"/>
<line x1="975.6" y1="112.3" x2="975.6" y2="185.7" stroke="rgb(102,102,102)" stroke-width="1.68"/>
<line x1="978.9" y1="112.2" x2="978.9" y2="186.1" stroke="rgb(76,76,76)" stroke-width="1.68"/>
<line x1="982.3" y1="112.0" x2="982.3" y2="186.5" stroke="rgb(98,98,98)" stroke-width="1.68"/>
<line x1="985.7" y1="111.9" x2="985.7" y2="186.9" stroke="rgb(102,102,102)" stroke-width="1.68"/>
<line x1="989.0" y1="111.8" x2="989.0" y2="187.3" stroke="rgb(98,98,98)" stroke-width="1.68"/>
<line x1="992.4" y1="111.7" x2="992.4" y2="187.7" stroke="rgb(98,98,98)" stroke-width="1.68"/>
<line x1="995.7" y1="111.6" x2="995.7" y2="188.1" stroke="rgb(102,102,102)" stroke-width="1.68"/>
<line x1="999.1" y1="111.4" x2="999.1" y2="188.5" stroke="rgb(94,94,94)" stroke-width="1.68"/>
<line x1="1002.5" y1="111.3" x2="1002.5" y2="188.9" stroke="rgb(76,76,76)" stroke-width="1.68"/>
<line x1="1005.8" y1="111.2" x2="1005.8" y2="189.3" stroke="rgb(76,76,76)" stroke-width="1.68"/>
<line x1="1009.2" y1="111.1" x2="1009.2" y2="189.7" stroke="rgb(76,76,76)" stroke-width="1.68"/>
<line x1="1012.5" y1="111.0" x2="1012.5" y2="190.1" stroke="rgb(98,98,98)" stroke-width="1.68"/>
<line x1="957.4" y1="112.6" x2="957.4" y2="183.8" stroke="rgb(141,141,141)" stroke-width="1.34"/>
<line x1="972.9" y1="112.1" x2="972.9" y2="185.7" stroke="rgb(141,141,141)" stroke-width="1.34"/>
<line x1="982.3" y1="111.7" x2="982.3" y2="186.8" stroke="rgb(25,25,25)" stroke-width="1.94"/>
<line x1="991.7" y1="111.4" x2="991.7" y2="187.9" stroke="rgb(141,141,141)" stroke-width="1.34"/>
<line x1="1007.2" y1="110.9" x2="1007.2" y2="189.8" stroke="rgb(141,141,141)" stroke-width="1.34"/>
<rect x="959.8" y="144.2" width="5.1" height="2.2" fill="rgb(146,146,146)" opacity="0.75"/>
<rect x="975.9" y="163.4" width="6.5" height="1.7" fill="rgb(176,176,176)" opacity="0.75"/>
<rect x="958.1" y="146.9" width="5.0" height="1.7" fill="rgb(176,176,176)" opacity="0.75"/>
<rect x="972.8" y="161.5" width="2.2" height="1.7" fill="rgb(176,176,176)" opacity="0.75"/>
<rect x="999.1" y="164.9" width="4.1" height="1.7" fill="rgb(146,146,146)" opacity="0.75"/>
<rect x="998.6" y="125.4" width="6.1" height="2.4" fill="rgb(146,146,146)" opacity="0.75"/>
<rect x="973.6" y="136.8" width="2.2" height="2.2" fill="rgb(196,196,196)" opacity="0.75"/>
<polygon points="1015.9,-66.4 1100.0,-95.8 1100.0,9.8 1015.9,25.8" fill="rgb(70,70,70)" stroke="#1e1e1e" stroke-width="3.0"/>
<line x1="1019.1" y1="-66.0" x2="1019.1" y2="23.7" stroke="rgb(82,82,82)" stroke-width="1.62"/>
<line x1="1022.4" y1="-67.2" x2="1022.4" y2="23.1" stroke="rgb(82,82,82)" stroke-width="1.62"/>
<line x1="1025.6" y1="-68.3" x2="1025.6" y2="22.4" stroke="rgb(82,82,82)" stroke-width="1.62"/>
<line x1="1028.8" y1="-69.4" x2="1028.8" y2="21.8" stroke="rgb(60,60,60)" stroke-width="1.62"/>
<line x1="1032.1" y1="-70.6" x2="1032.1" y2="21.2" stroke="rgb(60,60,60)" stroke-width="1.62"/>
<line x1="1035.3" y1="-71.7" x2="1035.3" y2="20.6" stroke="rgb(60,60,60)" stroke-width="1.62"/>
<line x1="1038.5" y1="-72.8" x2="1038.5" y2="20.0" stroke="rgb(78,78,78)" stroke-width="1.62"/>
<line x1="1041.8" y1="-74.0" x2="1041.8" y2="19.4" stroke="rgb(60,60,60)" stroke-width="1.62"/>
<line x1="1045.0" y1="-75.1" x2="1045.0" y2="18.8" stroke="rgb(86,86,86)" stroke-width="1.62"/>
<line x1="1048.2" y1="-76.2" x2="1048.2" y2="18.1" stroke="rgb(86,86,86)" stroke-width="1.62"/>
<line x1="1051.5" y1="-77.4" x2="1051.5" y2="17.5" stroke="rgb(86,86,86)" stroke-width="1.62"/>
<line x1="1054.7" y1="-78.5" x2="1054.7" y2="16.9" stroke="rgb(82,82,82)" stroke-width="1.62"/>
<line x1="1058.0" y1="-79.6" x2="1058.0" y2="16.3" stroke="rgb(86,86,86)" stroke-width="1.62"/>
<line x1="1061.2" y1="-80.8" x2="1061.2" y2="15.7" stroke="rgb(86,86,86)" stroke-width="1.62"/>
<line x1="1064.4" y1="-81.9" x2="1064.4" y2="15.1" stroke="rgb(78,78,78)" stroke-width="1.62"/>
<line x1="1067.7" y1="-83.0" x2="1067.7" y2="14.5" stroke="rgb(86,86,86)" stroke-width="1.62"/>
<line x1="1070.9" y1="-84.2" x2="1070.9" y2="13.8" stroke="rgb(78,78,78)" stroke-width="1.62"/>
<line x1="1074.1" y1="-85.3" x2="1074.1" y2="13.2" stroke="rgb(60,60,60)" stroke-width="1.62"/>
<line x1="1077.4" y1="-86.4" x2="1077.4" y2="12.6" stroke="rgb(82,82,82)" stroke-width="1.62"/>
<line x1="1080.6" y1="-87.6" x2="1080.6" y2="12.0" stroke="rgb(78,78,78)" stroke-width="1.62"/>
<line x1="1083.8" y1="-88.7" x2="1083.8" y2="11.4" stroke="rgb(78,78,78)" stroke-width="1.62"/>
<line x1="1087.1" y1="-89.8" x2="1087.1" y2="10.8" stroke="rgb(82,82,82)" stroke-width="1.62"/>
<line x1="1090.3" y1="-91.0" x2="1090.3" y2="10.2" stroke="rgb(82,82,82)" stroke-width="1.62"/>
<line x1="1093.5" y1="-92.1" x2="1093.5" y2="9.5" stroke="rgb(86,86,86)" stroke-width="1.62"/>
<line x1="1096.8" y1="-93.2" x2="1096.8" y2="8.9" stroke="rgb(82,82,82)" stroke-width="1.62"/>
<line x1="1026.8" y1="-69.0" x2="1026.8" y2="22.5" stroke="rgb(125,125,125)" stroke-width="1.68"/>
<line x1="1046.2" y1="-75.8" x2="1046.2" y2="18.8" stroke="rgb(125,125,125)" stroke-width="1.68"/>
<line x1="1058.0" y1="-79.9" x2="1058.0" y2="16.6" stroke="rgb(25,25,25)" stroke-width="2.43"/>
<line x1="1069.7" y1="-84.1" x2="1069.7" y2="14.4" stroke="rgb(125,125,125)" stroke-width="1.68"/>
<line x1="1089.1" y1="-90.8" x2="1089.1" y2="10.7" stroke="rgb(125,125,125)" stroke-width="1.68"/>
<rect x="1077.0" y="-30.0" width="3.4" height="2.2" fill="rgb(180,180,180)" opacity="0.75"/>
<rect x="1040.9" y="-56.4" width="5.5" height="1.9" fill="rgb(130,130,130)" opacity="0.75"/>
<rect x="1035.1" y="-30.4" width="9.3" height="1.4" fill="rgb(130,130,130)" opacity="0.75"/>
<rect x="1030.0" y="-50.8" width="9.3" height="2.6" fill="rgb(160,160,160)" opacity="0.75"/>
<rect x="1036.0" y="-50.2" width="6.6" height="2.1" fill="rgb(160,160,160)" opacity="0.75"/>
<rect x="1074.6" y="-11.5" width="7.6" height="2.2" fill="rgb(180,180,180)" opacity="0.75"/>
<rect x="1044.1" y="-42.9" width="4.7" height="2.2" fill="rgb(160,160,160)" opacity="0.75"/>
<rect x="1037.7" y="-43.1" width="3.7" height="1.5" fill="rgb(130,130,130)" opacity="0.75"/>
<rect x="1085.4" y="-61.6" width="4.9" height="2.6" fill="rgb(130,130,130)" opacity="0.75"/>
<polygon points="1015.9,25.8 1100.0,9.8 1100.0,106.4 1015.9,109.4" fill="rgb(62,62,62)" stroke="#1e1e1e" stroke-width="3.0"/>
<line x1="1019.1" y1="26.7" x2="1019.1" y2="107.7" stroke="rgb(70,70,70)" stroke-width="1.62"/>
<line x1="1022.4" y1="26.1" x2="1022.4" y2="107.6" stroke="rgb(52,52,52)" stroke-width="1.62"/>
<line x1="1025.6" y1="25.4" x2="1025.6" y2="107.5" stroke="rgb(78,78,78)" stroke-width="1.62"/>
<line x1="1028.8" y1="24.8" x2="1028.8" y2="107.4" stroke="rgb(52,52,52)" stroke-width="1.62"/>
<line x1="1032.1" y1="24.2" x2="1032.1" y2="107.3" stroke="rgb(52,52,52)" stroke-width="1.62"/>
<line x1="1035.3" y1="23.6" x2="1035.3" y2="107.2" stroke="rgb(52,52,52)" stroke-width="1.62"/>
<line x1="1038.5" y1="23.0" x2="1038.5" y2="107.1" stroke="rgb(78,78,78)" stroke-width="1.62"/>
<line x1="1041.8" y1="22.4" x2="1041.8" y2="107.0" stroke="rgb(70,70,70)" stroke-width="1.62"/>
<line x1="1045.0" y1="21.8" x2="1045.0" y2="106.8" stroke="rgb(78,78,78)" stroke-width="1.62"/>
<line x1="1048.2" y1="21.1" x2="1048.2" y2="106.7" stroke="rgb(74,74,74)" stroke-width="1.62"/>
<line x1="1051.5" y1="20.5" x2="1051.5" y2="106.6" stroke="rgb(52,52,52)" stroke-width="1.62"/>
<line x1="1054.7" y1="19.9" x2="1054.7" y2="106.5" stroke="rgb(74,74,74)" stroke-width="1.62"/>
<line x1="1058.0" y1="19.3" x2="1058.0" y2="106.4" stroke="rgb(70,70,70)" stroke-width="1.62"/>
<line x1="1061.2" y1="18.7" x2="1061.2" y2="106.3" stroke="rgb(52,52,52)" stroke-width="1.62"/>
<line x1="1064.4" y1="18.1" x2="1064.4" y2="106.2" stroke="rgb(52,52,52)" stroke-width="1.62"/>
<line x1="1067.7" y1="17.5" x2="1067.7" y2="106.0" stroke="rgb(70,70,70)" stroke-width="1.62"/>
<line x1="1070.9" y1="16.8" x2="1070.9" y2="105.9" stroke="rgb(70,70,70)" stroke-width="1.62"/>
<line x1="1074.1" y1="16.2" x2="1074.1" y2="105.8" stroke="rgb(52,52,52)" stroke-width="1.62"/>
<line x1="1077.4" y1="15.6" x2="1077.4" y2="105.7" stroke="rgb(74,74,74)" stroke-width="1.62"/>
<line x1="1080.6" y1="15.0" x2="1080.6" y2="105.6" stroke="rgb(70,70,70)" stroke-width="1.62"/>
<line x1="1083.8" y1="14.4" x2="1083.8" y2="105.5" stroke="rgb(78,78,78)" stroke-width="1.62"/>
<line x1="1087.1" y1="13.8" x2="1087.1" y2="105.4" stroke="rgb(74,74,74)" stroke-width="1.62"/>
<line x1="1090.3" y1="13.2" x2="1090.3" y2="105.3" stroke="rgb(52,52,52)" stroke-width="1.62"/>
<line x1="1093.5" y1="12.5" x2="1093.5" y2="105.1" stroke="rgb(52,52,52)" stroke-width="1.62"/>
<line x1="1096.8" y1="11.9" x2="1096.8" y2="105.0" stroke="rgb(74,74,74)" stroke-width="1.62"/>
<line x1="1026.8" y1="24.9" x2="1026.8" y2="107.8" stroke="rgb(117,117,117)" stroke-width="1.68"/>
<line x1="1046.2" y1="21.2" x2="1046.2" y2="107.1" stroke="rgb(117,117,117)" stroke-width="1.68"/>
<line x1="1058.0" y1="19.0" x2="1058.0" y2="106.7" stroke="rgb(25,25,25)" stroke-width="2.43"/>
<line x1="1069.7" y1="16.8" x2="1069.7" y2="106.3" stroke="rgb(117,117,117)" stroke-width="1.68"/>
<line x1="1089.1" y1="13.1" x2="1089.1" y2="105.6" stroke="rgb(117,117,117)" stroke-width="1.68"/>
<rect x="1039.0" y="57.0" width="2.3" height="2.6" fill="rgb(122,122,122)" opacity="0.75"/>
<rect x="1026.9" y="80.2" width="8.0" height="2.3" fill="rgb(122,122,122)" opacity="0.75"/>
<rect x="1051.8" y="55.5" width="4.3" height="1.3" fill="rgb(172,172,172)" opacity="0.75"/>
<rect x="1077.8" y="63.7" width="5.0" height="2.3" fill="rgb(122,122,122)" opacity="0.75"/>
<rect x="1069.0" y="39.4" width="2.7" height="1.3" fill="rgb(172,172,172)" opacity="0.75"/>
<rect x="1071.1" y="55.5" width="6.9" height="1.7" fill="rgb(152,152,152)" opacity="0.75"/>
<rect x="1027.8" y="80.9" width="5.0" height="1.0" fill="rgb(152,152,152)" opacity="0.75"/>
<rect x="1075.9" y="80.5" width="3.4" height="2.2" fill="rgb(172,172,172)" opacity="0.75"/>
<rect x="1038.0" y="35.0" width="5.1" height="2.3" fill="rgb(122,122,122)" opacity="0.75"/>
<polygon points="1015.9,109.4 1100.0,106.4 1100.0,202.1 1015.9,192.0" fill="rgb(50,50,50)" stroke="#1e1e1e" stroke-width="3.0"/>
<line x1="1019.1" y1="110.7" x2="1019.1" y2="190.9" stroke="rgb(66,66,66)" stroke-width="1.62"/>
<line x1="1022.4" y1="110.6" x2="1022.4" y2="191.3" stroke="rgb(62,62,62)" stroke-width="1.62"/>
<line x1="1025.6" y1="110.5" x2="1025.6" y2="191.7" stroke="rgb(66,66,66)" stroke-width="1.62"/>
<line x1="1028.8" y1="110.4" x2="1028.8" y2="192.1" stroke="rgb(58,58,58)" stroke-width="1.62"/>
<line x1="1032.1" y1="110.3" x2="1032.1" y2="192.5" stroke="rgb(58,58,58)" stroke-width="1.62"/>
<line x1="1035.3" y1="110.2" x2="1035.3" y2="192.9" stroke="rgb(40,40,40)" stroke-width="1.62"/>
<line x1="1038.5" y1="110.1" x2="1038.5" y2="193.2" stroke="rgb(40,40,40)" stroke-width="1.62"/>
<line x1="1041.8" y1="110.0" x2="1041.8" y2="193.6" stroke="rgb(58,58,58)" stroke-width="1.62"/>
<line x1="1045.0" y1="109.8" x2="1045.0" y2="194.0" stroke="rgb(66,66,66)" stroke-width="1.62"/>
<line x1="1048.2" y1="109.7" x2="1048.2" y2="194.4" stroke="rgb(40,40,40)" stroke-width="1.62"/>
<line x1="1051.5" y1="109.6" x2="1051.5" y2="194.8" stroke="rgb(62,62,62)" stroke-width="1.62"/>
<line x1="1054.7" y1="109.5" x2="1054.7" y2="195.2" stroke="rgb(58,58,58)" stroke-width="1.62"/>
<line x1="1058.0" y1="109.4" x2="1058.0" y2="195.6" stroke="rgb(58,58,58)" stroke-width="1.62"/>
<line x1="1061.2" y1="109.3" x2="1061.2" y2="196.0" stroke="rgb(62,62,62)" stroke-width="1.62"/>
<line x1="1064.4" y1="109.2" x2="1064.4" y2="196.4" stroke="rgb(62,62,62)" stroke-width="1.62"/>
<line x1="1067.7" y1="109.0" x2="1067.7" y2="196.7" stroke="rgb(58,58,58)" stroke-width="1.62"/>
<line x1="1070.9" y1="108.9" x2="1070.9" y2="197.1" stroke="rgb(58,58,58)" stroke-width="1.62"/>
<line x1="1074.1" y1="108.8" x2="1074.1" y2="197.5" stroke="rgb(40,40,40)" stroke-width="1.62"/>
<line x1="1077.4" y1="108.7" x2="1077.4" y2="197.9" stroke="rgb(40,40,40)" stroke-width="1.62"/>
<line x1="1080.6" y1="108.6" x2="1080.6" y2="198.3" stroke="rgb(66,66,66)" stroke-width="1.62"/>
<line x1="1083.8" y1="108.5" x2="1083.8" y2="198.7" stroke="rgb(66,66,66)" stroke-width="1.62"/>
<line x1="1087.1" y1="108.4" x2="1087.1" y2="199.1" stroke="rgb(58,58,58)" stroke-width="1.62"/>
<line x1="1090.3" y1="108.3" x2="1090.3" y2="199.5" stroke="rgb(62,62,62)" stroke-width="1.62"/>
<line x1="1093.5" y1="108.1" x2="1093.5" y2="199.8" stroke="rgb(58,58,58)" stroke-width="1.62"/>
<line x1="1096.8" y1="108.0" x2="1096.8" y2="200.2" stroke="rgb(40,40,40)" stroke-width="1.62"/>
<line x1="1026.8" y1="110.2" x2="1026.8" y2="192.1" stroke="rgb(105,105,105)" stroke-width="1.68"/>
<line x1="1046.2" y1="109.5" x2="1046.2" y2="194.5" stroke="rgb(105,105,105)" stroke-width="1.68"/>
<line x1="1058.0" y1="109.1" x2="1058.0" y2="195.9" stroke="rgb(25,25,25)" stroke-width="2.43"/>
<line x1="1069.7" y1="108.7" x2="1069.7" y2="197.3" stroke="rgb(105,105,105)" stroke-width="1.68"/>
<line x1="1089.1" y1="108.0" x2="1089.1" y2="199.6" stroke="rgb(105,105,105)" stroke-width="1.68"/>
<rect x="1089.9" y="152.7" width="6.5" height="2.0" fill="rgb(110,110,110)" opacity="0.75"/>
<rect x="1030.1" y="163.9" width="8.1" height="1.3" fill="rgb(160,160,160)" opacity="0.75"/>
<rect x="1077.2" y="135.4" width="6.5" height="1.3" fill="rgb(140,140,140)" opacity="0.75"/>
<rect x="1056.1" y="156.5" width="4.9" height="1.8" fill="rgb(110,110,110)" opacity="0.75"/>
<rect x="1050.1" y="128.9" width="9.1" height="2.3" fill="rgb(110,110,110)" opacity="0.75"/>
<rect x="1037.3" y="174.7" width="2.3" height="2.3" fill="rgb(160,160,160)" opacity="0.75"/>
<rect x="1032.2" y="157.3" width="8.2" height="2.2" fill="rgb(160,160,160)" opacity="0.75"/>
<rect x="1068.0" y="140.7" width="5.1" height="2.1" fill="rgb(110,110,110)" opacity="0.75"/>
<rect x="1054.4" y="148.5" width="2.0" height="2.6" fill="rgb(110,110,110)" opacity="0.75"/>
</g>
<text class="v" x="855" y="13" font-size="6.5" fill="#cfcfcf" font-weight="normal" style="font-family:'Liberation Serif',serif">tex</text>
<text class="v" transform="translate(903.5,88) rotate(-90)" font-size="5.2" fill="#d8d8d8" letter-spacing="0.4">AMFICON</text>
</g>
</g>
<polygon points="270.2,143.9 1024,143.9 1024,204.7 243.2,204.7" fill="#a03124"/>
<text x="121" y="217.5" font-size="13.5" fill="#ffffff" opacity="0.85" style="font-family:'Liberation Sans',sans-serif" textLength="88" lengthAdjust="spacingAndGlyphs">Chart Title</text>
<rect x="99.2" y="283.2" width="52.4" height="178.8" fill="#000"/>
<rect x="204.2" y="266.0" width="52.4" height="196.0" fill="#a03124"/>
<rect x="368.1" y="349.4" width="45.6" height="113.6" fill="#000"/>
<rect x="422.2" y="306.8" width="45.9" height="156.2" fill="#000"/>
<rect x="531.9" y="319.5" width="45.7" height="143.5" fill="#a03124"/>
<rect x="586.7" y="277.4" width="45.7" height="185.6" fill="#a03124"/>
<rect x="706.9" y="370.2" width="44.8" height="92.8" fill="#000"/>
<rect x="760.2" y="320.0" width="45.8" height="143.0" fill="#000"/>
<rect x="869.0" y="340.1" width="45.3" height="122.9" fill="#a03124"/>
<rect x="923.0" y="291.7" width="45.2" height="171.3" fill="#a03124"/>
<line x1="47" y1="461.9" x2="308.3" y2="461.9" stroke="#858585" stroke-width="1.3"/>
<line x1="362.2" y1="462.9" x2="637.6" y2="462.9" stroke="#858585" stroke-width="1.3"/>
<line x1="701" y1="462.9" x2="973.2" y2="462.9" stroke="#858585" stroke-width="1.3"/>
<line x1="496.0" y1="254.5" x2="496.0" y2="463.3" stroke="#180606" stroke-width="2"/>
<line x1="838.6" y1="254.5" x2="838.6" y2="463.3" stroke="#180606" stroke-width="2"/>
<rect x="21.1" y="30.7" width="6" height="13.6" fill="#a03124"/>
<text class="v" x="34.15" y="41.60" font-size="11.24" fill="#fff" stroke="#fff" stroke-width="0.225" stroke-linejoin="round" textLength="67.83" lengthAdjust="spacing">WABTEC</text>
<text class="v" x="33.91" y="111.55" font-size="25.29" fill="#fff" stroke="#fff" stroke-width="0.506" stroke-linejoin="round" textLength="40.12" lengthAdjust="spacing">2Q</text>
<text class="v" x="87.17" y="111.55" font-size="25.29" fill="#fff" stroke="#fff" stroke-width="0.506" stroke-linejoin="round" textLength="75.94" lengthAdjust="spacing">2024</text>
<text class="v" x="176.47" y="111.55" font-size="25.29" fill="#fff" stroke="#fff" stroke-width="0.506" stroke-linejoin="round" textLength="170.27" lengthAdjust="spacing" dx="0 2.23 2.23 0 0 0 2.23 2.23 0">FINANCIAL</text>
<text class="v" x="362.23" y="111.55" font-size="25.29" fill="#fff" stroke="#fff" stroke-width="0.506" stroke-linejoin="round" textLength="154.06" lengthAdjust="spacing">SUMMARY</text>
<text class="v" x="264.24" y="182.85" font-size="20.42" fill="#fff" stroke="#fff" stroke-width="0.408" stroke-linejoin="round" textLength="143.93" lengthAdjust="spacing" dx="0 1.81 0 0 0 0 0 0 0">INCREASED</text>
<text class="v" x="418.22" y="182.85" font-size="20.42" fill="#fff" stroke="#fff" stroke-width="0.408" stroke-linejoin="round" textLength="86.17" lengthAdjust="spacing">SALES,</text>
<text class="v" x="514.00" y="182.85" font-size="20.42" fill="#fff" stroke="#fff" stroke-width="0.408" stroke-linejoin="round" textLength="104.22" lengthAdjust="spacing" dx="0 0 0 0 1.81 1.81">MARGIN</text>
<text class="v" x="627.62" y="182.85" font-size="20.42" fill="#fff" stroke="#fff" stroke-width="0.408" stroke-linejoin="round" textLength="148.46" lengthAdjust="spacing" dx="0 0 0 0 0 0 1.81 1.81 0">EXPANSION</text>
<text class="v" x="785.42" y="182.85" font-size="20.42" fill="#fff" stroke="#fff" stroke-width="0.408" stroke-linejoin="round" textLength="52.13" lengthAdjust="spacing">AND</text>
<text class="v" x="847.62" y="182.85" font-size="20.42" fill="#fff" stroke="#fff" stroke-width="0.408" stroke-linejoin="round" textLength="46.20" lengthAdjust="spacing">EPS</text>
<text class="v" x="902.84" y="182.85" font-size="20.42" fill="#fff" stroke="#fff" stroke-width="0.408" stroke-linejoin="round" textLength="111.99" lengthAdjust="spacing">GROWTH</text>
<text class="t" x="136.07" y="235.85" font-size="17.01" fill="#000" stroke="#000" stroke-width="0.510" stroke-linejoin="round" textLength="58.47" lengthAdjust="spacingAndGlyphs">SALES</text>
<text class="t" x="376.14" y="235.75" font-size="17.01" fill="#000" stroke="#000" stroke-width="0.510" stroke-linejoin="round" textLength="25.35" lengthAdjust="spacingAndGlyphs">OP</text>
<text class="t" x="408.19" y="235.75" font-size="17.01" fill="#000" stroke="#000" stroke-width="0.510" stroke-linejoin="round" textLength="76.42" lengthAdjust="spacingAndGlyphs" dx="0 0.87 0 0 0 0">INCOME</text>
<text class="t" x="491.15" y="235.75" font-size="17.01" fill="#000" stroke="#000" stroke-width="0.510" stroke-linejoin="round" textLength="7.15" lengthAdjust="spacingAndGlyphs">/</text>
<text class="t" x="505.47" y="235.75" font-size="17.01" fill="#000" stroke="#000" stroke-width="0.510" stroke-linejoin="round" textLength="25.62" lengthAdjust="spacingAndGlyphs">OP</text>
<text class="t" x="537.29" y="235.75" font-size="17.01" fill="#000" stroke="#000" stroke-width="0.510" stroke-linejoin="round" textLength="78.77" lengthAdjust="spacingAndGlyphs" dx="0 0 0 0 0.87 0.87">MARGIN</text>
<text class="t" x="820.85" y="235.75" font-size="17.01" fill="#000" stroke="#000" stroke-width="0.510" stroke-linejoin="round" textLength="35.97" lengthAdjust="spacingAndGlyphs">EPS</text>
<text class="t" x="97.14" y="277.95" font-size="14.07" fill="#000" stroke="#000" stroke-width="0.422" stroke-linejoin="round" textLength="53.62" lengthAdjust="spacingAndGlyphs">$2.41B</text>
<text class="t" x="200.33" y="258.45" font-size="14.07" fill="#a03124" stroke="#a03124" stroke-width="0.422" stroke-linejoin="round" textLength="53.48" lengthAdjust="spacingAndGlyphs">$2.64B</text>
<text class="t" x="363.58" y="344.55" font-size="14.07" fill="#000" stroke="#000" stroke-width="0.422" stroke-linejoin="round" textLength="51.82" lengthAdjust="spacingAndGlyphs">$312M</text>
<text class="t" x="419.95" y="299.35" font-size="14.07" fill="#000" stroke="#000" stroke-width="0.422" stroke-linejoin="round" textLength="51.98" lengthAdjust="spacingAndGlyphs">$430M</text>
<text class="t" x="526.43" y="314.15" font-size="14.07" fill="#a03124" stroke="#a03124" stroke-width="0.422" stroke-linejoin="round" textLength="52.16" lengthAdjust="spacingAndGlyphs">$395M</text>
<text class="t" x="580.83" y="272.15" font-size="14.07" fill="#a03124" stroke="#a03124" stroke-width="0.422" stroke-linejoin="round" textLength="52.38" lengthAdjust="spacingAndGlyphs">$510M</text>
<text class="t" x="706.45" y="364.35" font-size="14.07" fill="#000" stroke="#000" stroke-width="0.422" stroke-linejoin="round" textLength="43.23" lengthAdjust="spacingAndGlyphs">$1.06</text>
<text class="t" x="759.45" y="313.85" font-size="14.07" fill="#000" stroke="#000" stroke-width="0.422" stroke-linejoin="round" textLength="43.05" lengthAdjust="spacingAndGlyphs">$1.64</text>
<text class="t" x="869.65" y="331.75" font-size="14.07" fill="#a03124" stroke="#a03124" stroke-width="0.422" stroke-linejoin="round" textLength="43.06" lengthAdjust="spacingAndGlyphs">$1.41</text>
<text class="t" x="923.82" y="283.45" font-size="14.07" fill="#a03124" stroke="#a03124" stroke-width="0.422" stroke-linejoin="round" textLength="43.19" lengthAdjust="spacingAndGlyphs">$1.96</text>
<text class="t" x="368.68" y="368.25" font-size="12.59" fill="#fff" stroke="#fff" stroke-width="0.378" stroke-linejoin="round" textLength="43.63" lengthAdjust="spacingAndGlyphs">12.9%</text>
<text class="t" x="423.57" y="324.65" font-size="12.59" fill="#fff" stroke="#fff" stroke-width="0.378" stroke-linejoin="round" textLength="43.80" lengthAdjust="spacingAndGlyphs">16.3%</text>
<text class="t" x="532.53" y="338.25" font-size="12.59" fill="#fff" stroke="#fff" stroke-width="0.378" stroke-linejoin="round" textLength="43.82" lengthAdjust="spacingAndGlyphs">16.4%</text>
<text class="t" x="588.57" y="295.95" font-size="12.59" fill="#fff" stroke="#fff" stroke-width="0.378" stroke-linejoin="round" textLength="43.82" lengthAdjust="spacingAndGlyphs">19.3%</text>
<text class="t" x="760.73" y="333.95" font-size="10.43" fill="#fff" stroke="#fff" stroke-width="0.313" stroke-linejoin="round" textLength="45.49" lengthAdjust="spacingAndGlyphs">+54.7%</text>
<text class="t" x="772.40" y="346.65" font-size="10.43" fill="#fff" stroke="#fff" stroke-width="0.313" stroke-linejoin="round" textLength="22.32" lengthAdjust="spacingAndGlyphs">YOY</text>
<text class="t" x="923.75" y="307.85" font-size="10.43" fill="#fff" stroke="#fff" stroke-width="0.313" stroke-linejoin="round" textLength="44.70" lengthAdjust="spacingAndGlyphs">+39.0%</text>
<text class="t" x="934.81" y="320.35" font-size="10.43" fill="#fff" stroke="#fff" stroke-width="0.313" stroke-linejoin="round" textLength="22.20" lengthAdjust="spacingAndGlyphs">YOY</text>
<text class="v" x="103.01" y="483.50" font-size="12.30" fill="#111" stroke="#111" stroke-width="0.246" stroke-linejoin="round" textLength="43.68" lengthAdjust="spacing">2023</text>
<text class="v" x="207.40" y="483.50" font-size="12.30" fill="#111" stroke="#111" stroke-width="0.246" stroke-linejoin="round" textLength="43.43" lengthAdjust="spacing">2024</text>
<text class="v" x="367.68" y="483.25" font-size="12.30" fill="#111" stroke="#111" stroke-width="0.246" stroke-linejoin="round" textLength="43.96" lengthAdjust="spacing">2023</text>
<text class="v" x="424.27" y="484.65" font-size="12.30" fill="#111" stroke="#111" stroke-width="0.246" stroke-linejoin="round" textLength="43.14" lengthAdjust="spacing">2024</text>
<text class="v" x="530.34" y="484.30" font-size="12.30" fill="#111" stroke="#111" stroke-width="0.246" stroke-linejoin="round" textLength="43.45" lengthAdjust="spacing">2023</text>
<text class="v" x="586.27" y="483.80" font-size="12.30" fill="#111" stroke="#111" stroke-width="0.246" stroke-linejoin="round" textLength="43.14" lengthAdjust="spacing">2024</text>
<text class="v" x="705.34" y="483.25" font-size="12.30" fill="#111" stroke="#111" stroke-width="0.246" stroke-linejoin="round" textLength="43.68" lengthAdjust="spacing">2023</text>
<text class="v" x="761.01" y="484.65" font-size="12.30" fill="#111" stroke="#111" stroke-width="0.246" stroke-linejoin="round" textLength="43.47" lengthAdjust="spacing">2024</text>
<text class="v" x="868.34" y="484.30" font-size="12.30" fill="#111" stroke="#111" stroke-width="0.246" stroke-linejoin="round" textLength="43.45" lengthAdjust="spacing">2023</text>
<text class="v" x="922.84" y="483.80" font-size="12.30" fill="#111" stroke="#111" stroke-width="0.246" stroke-linejoin="round" textLength="43.08" lengthAdjust="spacing">2024</text>
<text class="t" x="375.42" y="496.95" font-size="10.44" fill="#111" stroke="#111" stroke-width="0.313" stroke-linejoin="round" textLength="31.78" lengthAdjust="spacingAndGlyphs">GAAP</text>
<text class="t" x="431.49" y="498.35" font-size="10.44" fill="#111" stroke="#111" stroke-width="0.313" stroke-linejoin="round" textLength="31.38" lengthAdjust="spacingAndGlyphs">GAAP</text>
<text class="t" x="712.71" y="496.95" font-size="10.44" fill="#111" stroke="#111" stroke-width="0.313" stroke-linejoin="round" textLength="31.61" lengthAdjust="spacingAndGlyphs">GAAP</text>
<text class="t" x="768.48" y="498.35" font-size="10.44" fill="#111" stroke="#111" stroke-width="0.313" stroke-linejoin="round" textLength="31.20" lengthAdjust="spacingAndGlyphs">GAAP</text>
<text class="t" x="537.26" y="497.65" font-size="10.44" fill="#111" stroke="#111" stroke-width="0.313" stroke-linejoin="round" textLength="33.18" lengthAdjust="spacingAndGlyphs">ADJ<tspan font-size="7.6" dy="-2.7">(1)</tspan></text>
<text class="t" x="592.97" y="496.95" font-size="10.44" fill="#111" stroke="#111" stroke-width="0.313" stroke-linejoin="round" textLength="33.61" lengthAdjust="spacingAndGlyphs">ADJ<tspan font-size="7.6" dy="-2.7">(1)</tspan></text>
<text class="t" x="875.26" y="497.65" font-size="10.44" fill="#111" stroke="#111" stroke-width="0.313" stroke-linejoin="round" textLength="33.18" lengthAdjust="spacingAndGlyphs">ADJ<tspan font-size="7.6" dy="-2.7">(1)</tspan></text>
<text class="t" x="929.63" y="496.95" font-size="10.44" fill="#111" stroke="#111" stroke-width="0.313" stroke-linejoin="round" textLength="33.02" lengthAdjust="spacingAndGlyphs">ADJ<tspan font-size="7.6" dy="-2.7">(1)</tspan></text>
<text class="t" x="108.48" y="510.45" font-size="16.57" fill="#170a0a" stroke="#170a0a" stroke-width="0.497" stroke-linejoin="round" textLength="142.83" lengthAdjust="spacingAndGlyphs" dx="0 0 0 0 0 0.86 0.86 0 0 0 0 0 0">9.8% INCREASE</text>
<text class="r" x="63.70" y="529.40" font-size="15.12" fill="#1e1414" stroke="#1e1414" stroke-width="0.181" stroke-linejoin="round" textLength="230.56" lengthAdjust="spacingAndGlyphs">(10.6% INCREASE EX-CURRENCY)</text>
</svg></body></html>
